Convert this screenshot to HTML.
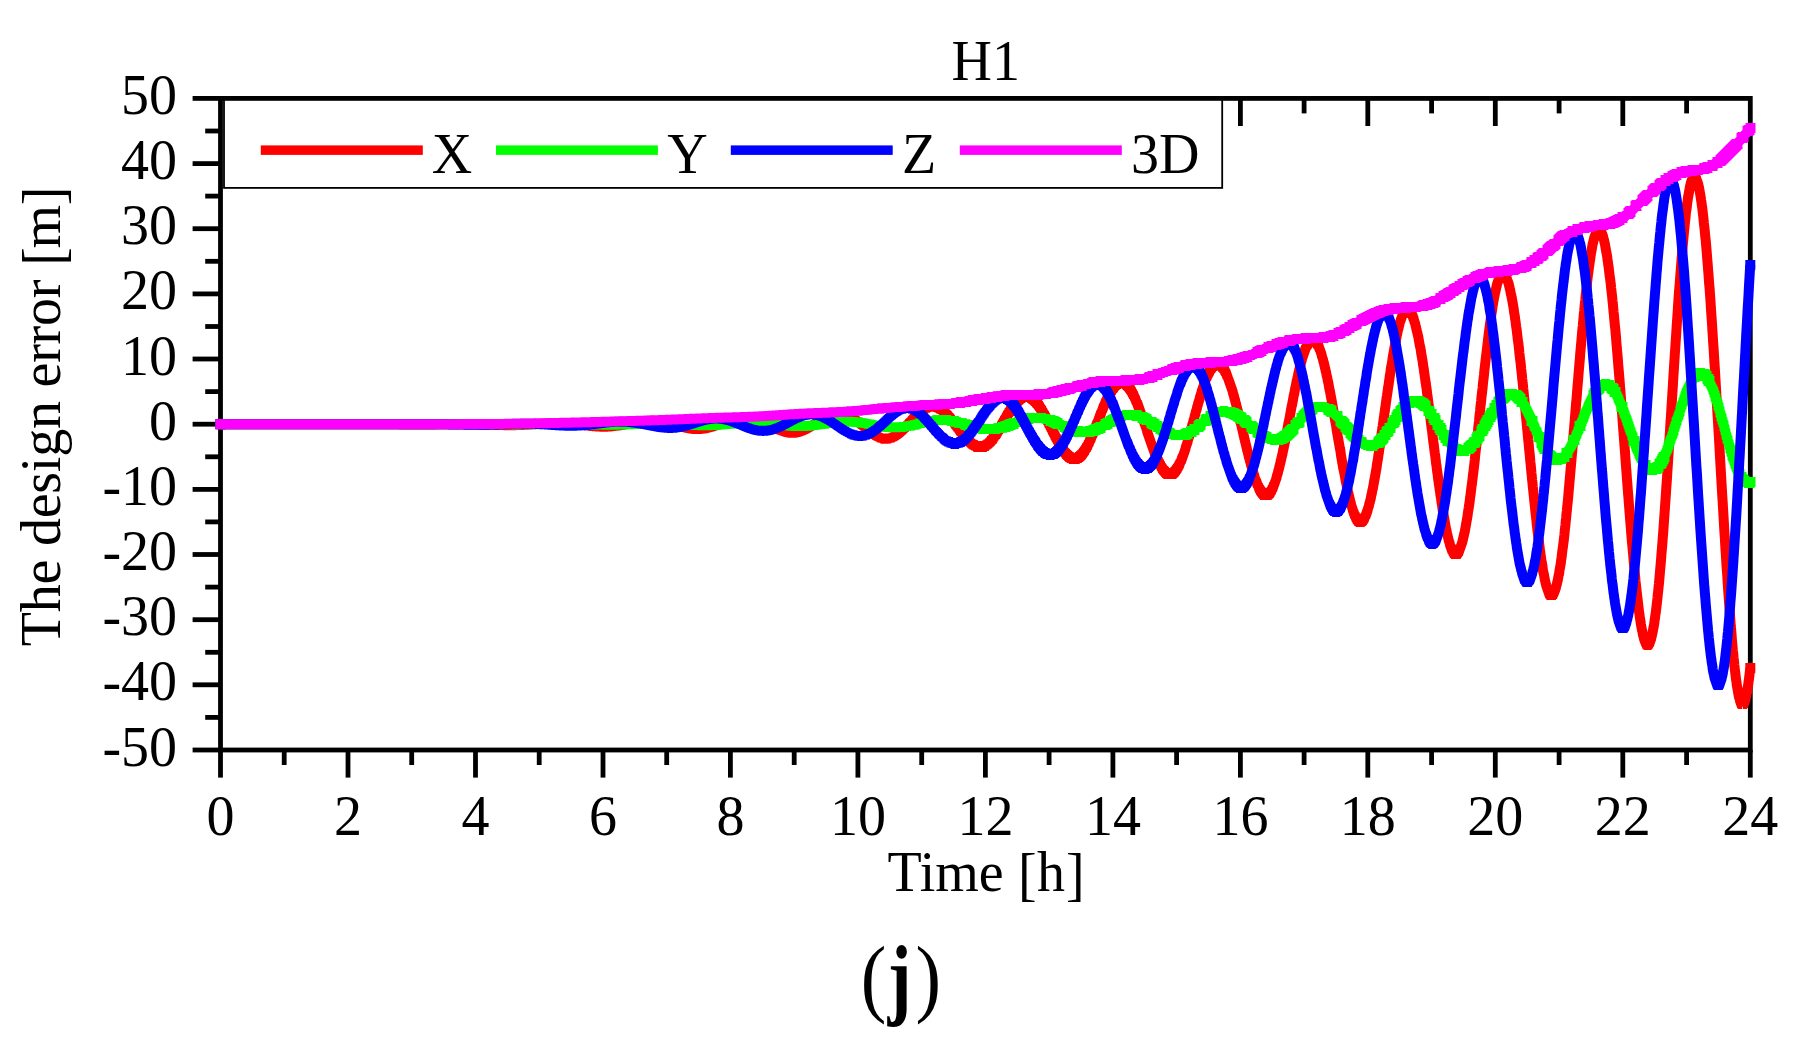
<!DOCTYPE html>
<html lang="en"><head><meta charset="utf-8"><title>H1 design error</title>
<style>html,body{margin:0;padding:0;background:#fff}body{width:1812px;height:1060px;overflow:hidden}svg{display:block}</style>
</head><body>
<svg width="1812" height="1060" viewBox="0 0 1812 1060">
<rect width="1812" height="1060" fill="#fff"/>
<g stroke="#000" stroke-width="4.8" fill="none">
<line x1="220.5" y1="750.0" x2="220.5" y2="777.6"/>
<line x1="284.2" y1="750.0" x2="284.2" y2="765.0"/>
<line x1="284.2" y1="98.4" x2="284.2" y2="113.4"/>
<line x1="348.0" y1="750.0" x2="348.0" y2="777.6"/>
<line x1="348.0" y1="98.4" x2="348.0" y2="126.0"/>
<line x1="411.7" y1="750.0" x2="411.7" y2="765.0"/>
<line x1="411.7" y1="98.4" x2="411.7" y2="113.4"/>
<line x1="475.5" y1="750.0" x2="475.5" y2="777.6"/>
<line x1="475.5" y1="98.4" x2="475.5" y2="126.0"/>
<line x1="539.2" y1="750.0" x2="539.2" y2="765.0"/>
<line x1="539.2" y1="98.4" x2="539.2" y2="113.4"/>
<line x1="603.0" y1="750.0" x2="603.0" y2="777.6"/>
<line x1="603.0" y1="98.4" x2="603.0" y2="126.0"/>
<line x1="666.7" y1="750.0" x2="666.7" y2="765.0"/>
<line x1="666.7" y1="98.4" x2="666.7" y2="113.4"/>
<line x1="730.4" y1="750.0" x2="730.4" y2="777.6"/>
<line x1="730.4" y1="98.4" x2="730.4" y2="126.0"/>
<line x1="794.2" y1="750.0" x2="794.2" y2="765.0"/>
<line x1="794.2" y1="98.4" x2="794.2" y2="113.4"/>
<line x1="857.9" y1="750.0" x2="857.9" y2="777.6"/>
<line x1="857.9" y1="98.4" x2="857.9" y2="126.0"/>
<line x1="921.7" y1="750.0" x2="921.7" y2="765.0"/>
<line x1="921.7" y1="98.4" x2="921.7" y2="113.4"/>
<line x1="985.4" y1="750.0" x2="985.4" y2="777.6"/>
<line x1="985.4" y1="98.4" x2="985.4" y2="126.0"/>
<line x1="1049.1" y1="750.0" x2="1049.1" y2="765.0"/>
<line x1="1049.1" y1="98.4" x2="1049.1" y2="113.4"/>
<line x1="1112.9" y1="750.0" x2="1112.9" y2="777.6"/>
<line x1="1112.9" y1="98.4" x2="1112.9" y2="126.0"/>
<line x1="1176.6" y1="750.0" x2="1176.6" y2="765.0"/>
<line x1="1176.6" y1="98.4" x2="1176.6" y2="113.4"/>
<line x1="1240.4" y1="750.0" x2="1240.4" y2="777.6"/>
<line x1="1240.4" y1="98.4" x2="1240.4" y2="126.0"/>
<line x1="1304.1" y1="750.0" x2="1304.1" y2="765.0"/>
<line x1="1304.1" y1="98.4" x2="1304.1" y2="113.4"/>
<line x1="1367.8" y1="750.0" x2="1367.8" y2="777.6"/>
<line x1="1367.8" y1="98.4" x2="1367.8" y2="126.0"/>
<line x1="1431.6" y1="750.0" x2="1431.6" y2="765.0"/>
<line x1="1431.6" y1="98.4" x2="1431.6" y2="113.4"/>
<line x1="1495.3" y1="750.0" x2="1495.3" y2="777.6"/>
<line x1="1495.3" y1="98.4" x2="1495.3" y2="126.0"/>
<line x1="1559.1" y1="750.0" x2="1559.1" y2="765.0"/>
<line x1="1559.1" y1="98.4" x2="1559.1" y2="113.4"/>
<line x1="1622.8" y1="750.0" x2="1622.8" y2="777.6"/>
<line x1="1622.8" y1="98.4" x2="1622.8" y2="126.0"/>
<line x1="1686.6" y1="750.0" x2="1686.6" y2="765.0"/>
<line x1="1686.6" y1="98.4" x2="1686.6" y2="113.4"/>
<line x1="1750.3" y1="750.0" x2="1750.3" y2="777.6"/>
<line x1="220.5" y1="750.0" x2="192.6" y2="750.0"/>
<line x1="220.5" y1="717.4" x2="205.2" y2="717.4"/>
<line x1="220.5" y1="684.8" x2="192.6" y2="684.8"/>
<line x1="220.5" y1="652.3" x2="205.2" y2="652.3"/>
<line x1="220.5" y1="619.7" x2="192.6" y2="619.7"/>
<line x1="220.5" y1="587.1" x2="205.2" y2="587.1"/>
<line x1="220.5" y1="554.5" x2="192.6" y2="554.5"/>
<line x1="220.5" y1="521.9" x2="205.2" y2="521.9"/>
<line x1="220.5" y1="489.4" x2="192.6" y2="489.4"/>
<line x1="220.5" y1="456.8" x2="205.2" y2="456.8"/>
<line x1="220.5" y1="424.2" x2="192.6" y2="424.2"/>
<line x1="220.5" y1="391.6" x2="205.2" y2="391.6"/>
<line x1="220.5" y1="359.0" x2="192.6" y2="359.0"/>
<line x1="220.5" y1="326.5" x2="205.2" y2="326.5"/>
<line x1="220.5" y1="293.9" x2="192.6" y2="293.9"/>
<line x1="220.5" y1="261.3" x2="205.2" y2="261.3"/>
<line x1="220.5" y1="228.7" x2="192.6" y2="228.7"/>
<line x1="220.5" y1="196.1" x2="205.2" y2="196.1"/>
<line x1="220.5" y1="163.6" x2="192.6" y2="163.6"/>
<line x1="220.5" y1="131.0" x2="205.2" y2="131.0"/>
<line x1="220.5" y1="98.4" x2="192.6" y2="98.4"/>
</g>
<rect x="224" y="98" width="998.2" height="89.9" fill="#fff" stroke="#000" stroke-width="1.8"/>
<rect x="220.5" y="98.4" width="1529.8" height="651.6" fill="none" stroke="#000" stroke-width="4.8"/>
<path d="M220.5 424.2l94.55 0 0.35 0.05 26.55 0 0.35 -0.05 35.1 0 0.35 0.05 8.85 0 0.35 0.05 6.35 0 0.35 0.05 5.7 0 0.35 0.05 6.7 0 0.35 0.05 23.75 0 0.35 -0.05 4.95 0 0.35 -0.05 4.25 0 0.35 -0.05 3.55 0 0.35 -0.05 3.9 0 0.35 -0.05 4.6 0 0.35 -0.05 14.2 0 0.35 0.05 3.55 0 0.35 0.05 2.1 0 0.35 0.05 2.15 0 0.35 0.05 1.4 0 0.35 0.05 1.4 0 0.4 0.05 1.4 0 0.35 0.05 1.4 0 0.35 0.05 1.1 0 0.35 0.05 1.05 0 0.35 0.05 1.05 0 0.35 0.05 1.1 0 0.35 0.05 1.4 0 0.35 0.05 1.05 0 0.35 0.05 1.1 0 0.35 0.05 1.4 0 0.35 0.05 1.05 0 0.4 0.05 1.75 0 0.35 0.05 1.4 0 0.35 0.05 2.15 0 0.35 0.05 3.9 0 0.35 0.05 3.9 0 0.35 -0.05 3.2 0 0.35 -0.05 1.75 0 0.35 -0.05 1.45 0 0.35 -0.05 1.05 0 0.35 -0.05 0.7 0 0.35 -0.05 0.7 0 0.4 -0.05 0.7 0 0.35 -0.05 0.7 0 0.35 -0.05 0.35 0 0.35 -0.05 0.7 0 0.35 -0.05 0.4 0 0.35 -0.05 0.7 0 0.35 -0.05 0.35 0 0.35 -0.05 0.35 0 0.35 -0.05 0.35 0 0.35 -0.05 0.35 0 0.4 -0.05 0.35 0 0.35 -0.05 0.35 0 0.35 -0.05 0.35 0 0.35 -0.05 0.35 0 0.35 -0.05 0.35 0 0.35 -0.05 0.35 0 0.4 -0.05 0.35 0 0.35 -0.05 0.35 0 0.35 -0.05 0.35 0 0.35 -0.05 0.35 0 0.35 -0.05 0.35 0 0.35 -0.05 0.35 0 0.35 -0.05 0.75 0 0.35 -0.05 0.35 0 0.35 -0.05 0.35 0 0.35 -0.05 0.35 0 0.35 -0.05 0.35 0 0.35 -0.05 0.75 0 0.35 -0.05 0.35 0 0.35 -0.05 0.7 0 0.35 -0.05 0.7 0 0.35 -0.05 0.7 0 0.4 -0.05 0.7 0 0.35 -0.05 1.05 0 0.35 -0.05 1.8 0 0.35 -0.05 6.35 0 0.35 0.05 1.45 0 0.35 0.05 1.05 0 0.35 0.05 0.7 0 0.35 0.05 0.7 0 0.35 0.05 0.4 0 0.35 0.05 0.35 0 0.35 0.05 0.35 0 0.35 0.05 0.35 0 0.35 0.05 0.35 0 0.35 0.05 0.35 0 0.35 0.05 0.4 0.05 0.35 0 0.35 0.05 0.35 0 0.7 0.1 0.35 0 1.05 0.15 0.35 0 0.7 0.1 0.4 0.05 0.35 0 1.05 0.15 0.35 0 1.75 0.25 0.35 0 0.4 0.05 1.75 0.25 0.35 0 1.75 0.25 0.4 0.05 0.35 0.05 0.35 0 2.1 0.3 0.35 0 0.7 0.1 0.4 0.05 0.35 0.05 0.35 0 1.4 0.2 0.35 0 1.05 0.15 0.35 0 0.4 0.05 0.35 0.05 0.35 0 0.7 0.1 0.35 0 0.35 0.05 0.35 0 0.35 0.05 0.35 0 0.35 0.05 0.35 0 0.4 0.05 0.35 0 0.35 0.05 0.35 0 0.35 0.05 0.7 0 0.35 0.05 0.7 0 0.35 0.05 1.45 0 0.35 0.05 3.55 0 0.35 -0.05 1.4 0 0.35 -0.05 0.7 0 0.35 -0.05 0.35 0 0.35 -0.05 0.4 0 0.35 -0.05 0.35 0 0.35 -0.05 0.35 0 0.35 -0.05 0.35 0 0.7 -0.1 0.35 0 0.7 -0.1 0.4 -0.05 0.35 0 3.5 -0.5 0.4 -0.05 2.1 -0.3 0.35 -0.1 1.05 -0.15 0.35 -0.1 0.4 -0.05 0.7 -0.1 0.35 -0.1 0.7 -0.1 0.35 -0.1 0.7 -0.1 0.35 -0.1 0.7 -0.1 0.4 -0.1 0.35 -0.05 0.35 -0.1 0.7 -0.1 0.35 -0.1 0.7 -0.1 0.35 -0.1 0.35 -0.05 0.35 -0.1 0.35 -0.05 0.4 -0.05 0.35 -0.1 0.35 -0.05 0.35 -0.1 0.7 -0.1 0.35 -0.1 0.7 -0.1 0.35 -0.1 0.7 -0.1 0.35 -0.1 0.4 -0.05 0.7 -0.1 0.35 -0.1 2.1 -0.3 0.35 -0.1 0.35 -0.05 0.4 -0.05 1.4 -0.2 0.35 0 1.75 -0.25 0.35 0 0.4 -0.05 0.35 -0.05 0.35 0 0.7 -0.1 0.35 0 0.35 -0.05 0.35 0 0.35 -0.05 0.7 0 0.35 -0.05 1.1 0 0.35 -0.05 2.8 0 0.4 0.05 1.05 0 0.35 0.05 0.35 0 0.35 0.05 0.7 0 0.7 0.1 0.35 0 0.4 0.05 0.35 0.05 0.35 0 3.15 0.45 0.4 0.05 1.05 0.15 0.35 0.1 0.7 0.1 0.35 0.1 0.7 0.1 0.35 0.1 0.35 0.05 0.4 0.1 0.35 0.05 0.35 0.1 0.35 0.05 0.7 0.2 0.35 0.05 1.05 0.3 0.35 0.05 0.7 0.2 0.4 0.1 0.35 0.1 0.35 0.05 3.15 0.9 0.4 0.1 3.5 1 0.35 0.05 0.4 0.1 3.15 0.9 0.35 0.05 0.35 0.1 0.4 0.1 0.7 0.2 0.35 0.05 0.7 0.2 0.35 0.05 0.35 0.1 0.35 0.05 0.35 0.1 0.35 0.05 0.35 0.1 0.4 0.05 0.35 0.1 0.7 0.1 0.35 0.1 1.05 0.15 0.35 0.1 1.05 0.15 0.4 0.05 0.35 0.05 0.35 0 1.05 0.15 0.35 0 0.7 0.1 0.7 0 0.35 0.05 0.4 0 0.35 0.05 3.15 0 0.35 -0.05 0.75 0 0.35 -0.05 0.35 0 0.35 -0.05 0.35 0 0.7 -0.1 0.35 0 1.4 -0.2 0.4 -0.05 0.7 -0.1 0.35 -0.1 1.05 -0.15 0.35 -0.1 0.35 -0.05 0.35 -0.1 0.35 -0.05 0.35 -0.1 0.4 -0.1 0.35 -0.05 3.5 -1 0.4 -0.1 0.35 -0.1 0.35 -0.15 0.7 -0.2 0.35 -0.15 0.7 -0.2 0.35 -0.15 0.35 -0.1 0.35 -0.15 0.35 -0.1 0.4 -0.15 0.35 -0.1 0.7 -0.3 0.35 -0.1 0.35 -0.15 0.35 -0.1 0.7 -0.3 0.35 -0.1 0.7 -0.3 0.4 -0.1 0.7 -0.3 0.35 -0.1 1.05 -0.45 0.35 -0.1 0.7 -0.3 0.35 -0.1 0.35 -0.15 0.4 -0.15 0.35 -0.1 0.35 -0.15 0.35 -0.1 0.35 -0.15 0.35 -0.1 0.35 -0.15 0.35 -0.1 0.35 -0.15 0.35 -0.1 0.35 -0.15 0.35 -0.1 0.4 -0.15 1.05 -0.3 0.35 -0.15 2.8 -0.8 0.4 -0.1 0.35 -0.1 0.35 -0.05 0.7 -0.2 0.35 -0.05 0.35 -0.1 0.35 -0.05 0.35 -0.1 1.05 -0.15 0.4 -0.1 1.75 -0.25 0.35 0 0.7 -0.1 0.35 0 0.35 -0.05 0.35 0 0.4 -0.05 3.5 0 0.35 0.05 0.4 0 0.35 0.05 0.35 0 3.15 0.45 0.4 0.05 0.35 0.1 0.35 0.05 0.7 0.2 0.35 0.05 0.7 0.2 0.35 0.05 1.05 0.3 0.4 0.1 0.35 0.15 0.7 0.2 0.35 0.15 0.7 0.2 0.35 0.15 0.35 0.1 1.05 0.45 0.4 0.1 1.05 0.45 0.35 0.1 0.35 0.2 1.75 0.75 0.35 0.2 0.35 0.15 0.4 0.15 0.7 0.3 0.35 0.2 0.35 0.15 0.35 0.2 0.7 0.3 0.35 0.2 0.35 0.15 0.35 0.2 0.35 0.15 0.4 0.2 0.35 0.15 0.35 0.2 0.35 0.15 0.7 0.4 0.7 0.3 0.7 0.4 0.35 0.15 0.35 0.2 0.4 0.15 0.7 0.3 0.35 0.25 1.4 0.6 0.7 0.4 0.7 0.3 0.4 0.15 0.7 0.3 0.35 0.2 0.35 0.1 1.05 0.45 0.35 0.1 0.35 0.15 0.35 0.1 0.35 0.2 0.4 0.1 0.35 0.15 1.75 0.5 0.35 0.2 0.7 0.2 0.35 0.05 0.35 0.1 0.4 0.1 0.7 0.1 0.35 0.1 1.05 0.15 0.35 0.15 1.05 0.15 0.35 0 0.4 0.05 0.35 0.05 0.7 0 0.35 0.05 1.75 0 0.35 -0.05 0.75 0 0.7 -0.1 0.35 0 1.05 -0.15 0.35 -0.15 0.35 -0.05 0.35 -0.1 0.7 -0.1 0.35 -0.1 0.4 -0.05 1.4 -0.4 0.35 -0.2 0.7 -0.2 0.35 -0.15 0.7 -0.2 0.35 -0.15 0.4 -0.1 0.35 -0.25 1.05 -0.45 0.35 -0.1 0.35 -0.15 0.35 -0.3 1.05 -0.45 0.35 -0.2 0.4 -0.3 0.7 -0.3 0.35 -0.2 0.35 -0.15 0.35 -0.35 0.35 -0.15 0.35 -0.2 0.35 -0.15 0.35 -0.2 0.35 -0.35 0.35 -0.15 0.4 -0.2 0.7 -0.4 0.35 -0.35 0.35 -0.15 0.7 -0.4 0.35 -0.35 1.05 -0.6 0.35 -0.35 0.4 -0.2 1.05 -0.6 0.35 -0.35 0.7 -0.4 0.35 -0.15 0.35 -0.4 0.35 -0.2 0.35 -0.15 0.35 -0.2 0.4 -0.4 0.35 -0.15 0.35 -0.2 0.35 -0.15 0.35 -0.2 0.35 -0.35 0.35 -0.2 0.35 -0.15 0.35 -0.2 0.35 -0.35 0.35 -0.15 0.35 -0.2 0.4 -0.15 0.35 -0.15 0.35 -0.35 1.75 -0.75 0.35 -0.35 0.35 -0.15 0.35 -0.1 0.35 -0.15 0.35 -0.1 0.4 -0.15 0.35 -0.35 2.1 -0.6 0.35 -0.35 0.35 -0.05 0.35 -0.1 0.35 -0.05 0.4 -0.1 0.35 -0.05 0.35 -0.1 1.75 -0.25 0.35 0 0.35 -0.3 0.35 -0.05 0.35 0 0.4 -0.05 2.8 0 0.35 0.05 0.35 0 0.35 0.05 0.4 0.3 2.45 0.35 0.35 0.1 0.35 0.05 0.35 0.1 0.35 0.05 0.4 0.4 2.1 0.6 0.35 0.4 0.35 0.1 0.35 0.15 0.35 0.1 0.35 0.15 0.4 0.1 0.35 0.45 0.7 0.3 0.35 0.1 0.35 0.15 0.35 0.5 1.05 0.45 0.35 0.5 0.35 0.15 0.4 0.15 0.35 0.15 0.35 0.5 0.35 0.2 0.7 0.3 0.35 0.55 0.35 0.15 0.35 0.2 0.35 0.15 0.35 0.55 0.35 0.2 0.35 0.15 0.4 0.55 0.35 0.2 0.35 0.15 0.35 0.2 0.35 0.55 0.35 0.2 0.35 0.15 0.35 0.6 0.35 0.15 0.7 0.4 0.35 0.55 0.4 0.2 0.35 0.15 0.35 0.6 0.35 0.2 0.35 0.15 0.35 0.6 0.35 0.15 0.7 0.4 0.35 0.55 0.35 0.2 0.35 0.15 0.4 0.6 0.35 0.15 0.35 0.2 0.35 0.55 0.35 0.15 0.35 0.2 0.35 0.15 0.35 0.6 1.05 0.45 0.35 0.6 0.4 0.15 0.35 0.15 0.35 0.1 0.35 0.6 0.35 0.15 0.35 0.1 0.35 0.15 0.35 0.55 0.35 0.15 0.35 0.1 0.35 0.15 0.35 0.55 0.4 0.1 0.7 0.2 0.35 0.15 0.35 0.1 0.35 0.5 1.05 0.3 0.35 0.05 0.35 0.1 0.35 0.5 0.4 0.1 1.05 0.15 0.35 0.1 0.35 0.05 0.35 0 0.7 0.1 0.35 0.5 0.35 0 0.35 0.05 0.4 0 0.35 0.05 2.1 0 0.35 -0.05 0.35 0 0.35 -0.05 0.35 -0.5 0.4 -0.05 0.35 0 2.1 -0.3 0.35 -0.1 0.35 -0.05 0.35 -0.55 0.7 -0.2 0.4 -0.05 0.7 -0.2 0.35 -0.6 1.05 -0.3 0.35 -0.6 0.35 -0.15 1.05 -0.3 0.4 -0.65 0.35 -0.15 0.35 -0.1 0.35 -0.7 0.35 -0.1 0.35 -0.15 0.35 -0.1 0.35 -0.7 0.7 -0.3 0.35 -0.65 0.35 -0.15 0.4 -0.15 0.35 -0.7 0.7 -0.3 0.35 -0.7 0.35 -0.15 0.35 -0.2 0.35 -0.7 0.7 -0.3 0.35 -0.75 0.35 -0.15 0.4 -0.15 0.35 -0.75 0.35 -0.15 0.35 -0.75 0.7 -0.3 0.35 -0.75 0.35 -0.15 0.35 -0.75 0.7 -0.3 0.35 -0.75 0.4 -0.15 0.35 -0.2 0.35 -0.75 0.35 -0.15 0.35 -0.75 0.7 -0.3 0.35 -0.75 0.35 -0.15 0.35 -0.75 0.7 -0.3 0.4 -0.75 0.7 -0.3 0.35 -0.75 0.35 -0.15 0.35 -0.1 0.35 -0.75 0.7 -0.3 0.35 -0.75 0.35 -0.1 0.35 -0.15 0.4 -0.75 0.7 -0.2 0.35 -0.75 0.7 -0.2 0.35 -0.75 1.05 -0.3 0.35 -0.75 0.7 -0.2 0.4 -0.05 0.35 -0.75 0.35 -0.05 0.35 -0.1 0.35 -0.05 0.35 -0.75 0.7 -0.1 0.35 -0.1 0.7 -0.1 0.35 -0.7 0.4 -0.05 0.35 -0.05 0.35 0 0.7 -0.1 0.35 0 0.35 -0.05 0.35 0 0.35 -0.05 0.35 0 0.35 -0.7 2.5 0 0.35 0.7 0.35 0.05 0.7 0 0.35 0.05 0.35 0 0.4 0.05 0.35 0.05 0.35 0 0.7 0.1 0.35 0.75 1.4 0.2 0.35 0.8 0.35 0.05 0.4 0.05 0.7 0.1 0.35 0.8 0.35 0.1 0.7 0.1 0.35 0.85 0.35 0.05 0.35 0.1 0.35 0.8 0.35 0.1 0.4 0.05 0.35 0.85 0.35 0.1 0.35 0.05 0.35 0.85 0.7 0.2 0.35 0.85 0.35 0.05 0.35 0.1 0.35 0.85 0.35 0.1 0.4 0.85 0.7 0.2 0.35 0.85 0.35 0.1 0.35 0.9 0.35 0.1 0.35 0.85 0.7 0.2 0.35 0.9 0.35 0.1 0.4 0.85 0.35 0.1 0.35 0.9 0.35 0.1 0.35 0.85 0.35 0.1 0.35 0.9 0.7 0.2 0.35 0.9 0.35 0.1 0.35 0.9 0.35 0.05 0.4 0.9 0.35 0.1 0.35 0.9 0.35 0.1 0.35 0.9 0.35 0.1 0.35 0.9 0.35 0.05 0.35 0.9 0.7 0.2 0.35 0.9 0.4 0.05 0.35 0.9 0.35 0.1 0.35 0.9 0.35 0.1 0.35 0.9 0.35 0.05 0.35 0.1 0.35 0.9 0.35 0.05 0.35 0.9 0.35 0.05 0.4 0.1 0.35 0.9 0.35 0.05 0.35 0.9 0.7 0.1 0.35 0.9 0.7 0.1 0.35 0.9 0.7 0.1 0.4 0.9 0.7 0.1 0.35 0.9 0.35 0.05 0.35 0 0.35 0.05 0.35 0.9 0.35 0.05 0.35 0 0.35 0.05 0.35 0 0.4 0.9 0.35 0.05 0.7 0 0.35 0.05 0.35 0 0.35 0.9 0.7 0 0.35 0.05 4.25 0 0.35 -0.05 0.75 0 0.35 -0.9 0.35 0 0.35 -0.05 0.35 0 0.35 -0.05 0.35 0 0.35 -0.9 0.35 -0.05 0.35 0 0.35 -0.05 0.35 -0.9 0.35 -0.05 0.4 0 0.35 -0.05 0.35 -0.9 0.7 -0.1 0.35 -0.9 0.7 -0.1 0.35 -0.95 0.35 0 0.35 -0.95 0.35 -0.05 0.4 -0.05 0.35 -0.95 0.35 0 0.35 -1 0.35 0 0.35 -0.95 0.35 -0.05 0.35 -0.95 0.35 -0.05 0.35 -0.95 0.35 -0.05 0.35 -1 0.4 0 0.35 -1 0.35 0 0.35 -1 0.35 -0.05 0.7 -1.9 0.35 -0.05 0.35 -1 0.35 0 0.35 -1 0.35 -0.05 0.4 -0.95 0.35 -1 0.35 0 0.35 -1 0.35 -0.95 0.35 -0.05 0.35 -1 0.35 0 0.7 -2 0.35 0 0.35 -1 0.4 0 0.7 -2 0.35 0 0.7 -2 0.35 0 0.35 -1 0.35 0 0.7 -2 0.35 0 0.4 -1 0.35 0 0.35 -1 0.35 0 0.35 -1 0.35 0 0.7 -2 0.35 0 0.35 -1 0.35 0 0.35 -1 0.4 0 0.35 -1 0.7 0 0.35 -1 0.35 0 0.35 -1 0.35 0 0.35 -1 0.7 0 0.35 -1 0.75 0 0.35 -1 0.7 0 0.35 -1 0.7 0 0.35 -1 1.4 0 0.4 -1 2.8 0 0.35 -1 1.8 0 0.35 1 2.8 0 0.4 1 1.05 0 0.35 1 1.05 0 0.35 1 0.7 0 0.35 1 0.75 0 0.35 1 0.35 0 0.35 1 0.7 0 0.35 1 0.35 0 0.35 1 0.35 0 0.35 1 0.4 0 0.35 1 0.35 0 0.7 2 0.35 0 0.35 1 0.35 0 0.35 1 0.35 0 0.7 2 0.4 0 0.7 2 0.35 0 0.35 1 0.35 0 0.7 2 0.35 0 0.7 2 0.35 0 0.4 1 0.7 2 0.35 0 0.7 2 0.35 0 0.7 2 0.35 0 1.05 3 0.4 0 0.7 2 0.35 0 1.05 3 0.35 0 0.7 2 0.35 0 0.35 1 0.4 1 0.35 0 0.7 2 0.35 0 0.7 2 0.35 0 0.7 2 0.35 0 0.35 1 0.4 0 0.7 2 0.35 0 0.35 1 0.35 0 0.35 1 0.35 0 0.35 1 0.35 0 0.35 1 0.35 0 0.4 1 0.35 0 0.35 1 0.7 0 0.35 1 0.7 0 0.35 1 0.7 0 0.35 1 1.1 0 0.35 1 1.75 0 0.35 1 3.55 0 0.35 -1 1.8 0 0.35 -1 1.05 0 0.35 -1 0.7 0 0.35 -1 0.7 0 0.35 -1 0.4 0 0.35 -1 0.35 0 0.35 -1 0.35 0 0.35 -1 0.35 0 0.35 -1 0.35 0 0.7 -2 0.35 0 0.4 -1 0.35 0 0.7 -2 0.35 0 1.05 -3 0.35 0 1.05 -3 0.4 -1 0.35 0 1.75 -5 0.35 0 1.4 -4 0.4 -1 1.05 -3 0.35 0 2.45 -7 0.4 -1 0.7 -2 0.35 0 2.45 -7 0.35 0 0.4 -1 1.4 -4 0.35 0 1.4 -4 0.35 0 0.35 -1 0.4 -1 0.35 -1 0.35 0 0.7 -2 0.35 0 0.7 -2 0.35 0 0.35 -1 0.35 0 0.35 -1 0.4 0 0.7 -2 0.7 0 0.35 -1 0.35 0 0.35 -1 0.35 0 0.35 -1 0.7 0 0.35 -1 1.1 0 0.35 -1 1.75 0 0.35 -1 2.85 0 0.35 1 1.75 0 0.4 1 0.7 0 0.35 1 0.7 0 0.35 1 0.7 0 0.35 1 0.35 0 0.35 1 0.4 0 0.35 1 0.35 0 0.35 1 0.35 0 0.7 2 0.35 0 0.7 2 0.35 0 0.35 1 0.4 1 0.35 0 1.4 4 0.35 0 1.75 5 0.4 0 3.85 11 0.4 1 4.2 12 0.4 1 0.35 2 3.5 10 0.4 1 2.8 8 0.35 0 0.7 2 0.4 1 1.4 4 0.35 0 1.4 4 0.35 0 0.35 1 0.4 1 0.35 0 0.7 2 0.35 0 0.7 2 0.35 0 0.35 1 0.35 0 0.35 1 0.35 0 0.4 1 0.7 0 0.35 1 0.35 0 0.35 1 1.05 0 0.35 1 5.7 0 0.35 -1 0.7 0 0.35 -1 0.7 0 0.35 -1 0.35 0 0.35 -1 0.35 0 0.35 -1 0.4 0 0.35 -1 0.35 0 0.7 -2 0.35 0 0.7 -2 0.35 0 1.05 -3 0.4 -1 0.35 -1 0.35 0 3.15 -9 0.4 -1 0.35 -2 1.75 -5 0.35 -2 1.4 -4 0.4 -2 1.05 -3 0.35 -2 0.7 -2 0.35 -2 1.05 -3 0.35 -2 0.4 -1 0.35 -1 0.35 -2 0.7 -2 0.35 -2 1.05 -3 0.35 -2 0.7 -2 0.4 -2 1.4 -4 0.35 -2 1.4 -4 0.35 -2 0.35 -1 0.4 -1 3.85 -11 0.4 -1 0.35 -1 0.35 0 1.05 -3 0.35 0 0.7 -2 0.35 0 0.7 -2 0.35 0 0.4 -1 0.35 0 0.35 -1 0.35 0 0.35 -1 0.7 0 0.35 -1 1.05 0 0.35 -1 4.25 0 0.4 1 1.05 0 0.35 1 0.35 0 0.35 1 0.7 0 0.35 1 0.35 0 0.35 1 0.4 1 0.35 0 0.35 1 0.35 0 1.05 3 0.35 0 1.4 4 0.4 1 3.85 11 0.4 1 0.35 2 1.05 3 0.35 2 0.7 2 0.35 2 0.7 2 0.35 2 0.4 1 0.35 2 0.7 2 0.35 2 0.35 1 0.35 2 0.35 1 0.35 2 0.35 1 0.35 2 0.7 2 0.4 2 0.35 1 0.35 2 0.35 1 0.35 2 0.35 1 0.35 2 0.35 1 0.35 2 0.35 1 0.35 2 0.35 1 0.4 2 0.35 1 0.35 2 0.35 1 0.35 2 0.7 2 0.35 2 0.35 1 0.35 2 0.7 2 0.4 2 0.7 2 0.35 2 1.05 3 0.35 2 1.4 4 0.4 1 0.35 2 2.1 6 0.35 0 1.05 3 0.4 1 0.35 1 0.35 0 0.7 2 0.35 0 0.35 1 0.35 0 0.35 1 0.35 0 0.35 1 0.35 0 0.4 1 0.7 0 0.35 1 4.25 0 0.35 -1 0.7 0 0.35 -1 0.7 0 0.35 -1 0.35 0 0.4 -1 0.35 -1 0.35 0 1.05 -3 0.35 0 2.1 -6 0.4 -1 0.7 -2 0.35 -2 1.05 -3 0.35 -2 0.7 -2 0.35 -2 0.35 -1 0.4 -2 0.35 -1 0.35 -2 0.35 -1 0.35 -2 0.35 -1 0.35 -2 0.35 -1 0.7 -4 0.35 -1 0.35 -2 0.4 -2 0.35 -2 0.35 -1 1.4 -8 0.35 -1 1.4 -8 0.4 -2 0.35 -2 0.35 -1 2.45 -14 0.35 -1 0.35 -2 0.4 -2 1.05 -6 0.35 -1 1.05 -6 0.35 -1 1.05 -6 0.4 -1 0.35 -2 0.35 -1 0.7 -4 0.35 -1 0.35 -2 0.35 -1 0.35 -2 0.7 -2 0.35 -2 0.4 -1 0.35 -1 0.35 -2 1.75 -5 0.35 -2 0.7 -2 0.35 0 0.35 -1 0.4 -1 1.05 -3 0.35 0 0.35 -1 0.35 0 0.7 -2 0.7 0 0.35 -1 0.75 0 0.35 -1 3.55 0 0.35 1 0.7 0 0.35 1 0.35 0 0.35 1 0.35 0 0.35 1 0.35 0 0.7 2 0.4 1 0.35 0 2.45 7 0.35 2 0.7 2 0.4 1 0.35 2 0.7 2 0.35 2 0.35 1 0.35 2 0.35 1 0.35 2 0.35 1 0.7 4 0.4 1 0.7 4 0.35 1 1.4 8 0.35 1 1.05 6 0.4 2 3.85 22 0.4 2 0.7 4 0.35 3 3.15 18 0.4 2 0.35 2 0.35 3 2.45 14 0.35 1 0.35 2 0.4 2 1.4 8 0.35 1 0.7 4 0.35 1 0.7 4 0.35 1 0.4 2 0.35 1 0.35 2 0.35 1 0.35 2 0.7 2 0.35 2 1.4 4 0.4 2 1.05 3 0.35 0 1.05 3 0.35 0 0.7 2 0.35 0 0.4 1 0.35 0 0.35 1 1.05 0 0.35 1 1.75 0 0.4 -1 1.05 0 0.35 -1 0.35 0 0.35 -1 0.35 0 0.35 -1 0.35 0 0.7 -2 0.4 -1 0.35 -1 0.35 0 1.05 -3 0.35 -2 1.05 -3 0.35 -2 0.7 -2 0.4 -2 0.35 -1 0.7 -4 0.35 -1 0.7 -4 0.35 -1 1.4 -8 0.4 -2 2.1 -12 0.35 -3 1.05 -6 0.35 -3 0.4 -2 0.35 -3 0.7 -4 0.35 -3 0.35 -2 0.35 -3 0.35 -2 0.35 -3 0.35 -2 0.35 -3 0.35 -2 0.4 -3 0.35 -2 0.35 -3 0.35 -2 0.35 -3 0.35 -2 0.35 -3 0.35 -2 0.35 -3 0.35 -2 0.35 -3 0.35 -2 0.4 -3 0.35 -2 0.35 -3 0.7 -4 0.35 -3 0.35 -2 0.35 -3 0.7 -4 0.35 -3 0.35 -2 0.4 -2 0.7 -4 0.35 -3 2.8 -16 0.4 -1 1.05 -6 0.35 -1 0.7 -4 0.7 -2 0.35 -2 0.35 -1 0.35 -2 0.35 -1 0.4 -1 2.8 -8 0.35 0 0.7 -2 0.4 0 0.35 -1 1.05 0 0.35 -1 2.1 0 0.4 1 0.7 0 0.35 1 0.35 0 0.7 2 0.35 0 1.05 3 0.35 0 0.4 1 0.35 1 0.35 2 1.4 4 0.35 2 0.35 1 0.35 2 0.35 1 0.35 2 0.4 1 0.35 2 0.35 1 1.75 10 0.35 1 0.7 4 0.35 3 0.4 2 1.05 6 0.35 3 0.7 4 0.35 3 0.35 2 0.35 3 0.35 2 0.35 3 0.4 2 0.35 3 0.35 2 0.7 6 0.35 2 0.7 6 0.35 2 1.05 9 0.4 2 1.4 12 0.35 2 1.4 12 0.35 2 0.7 6 0.4 3 0.35 2 1.05 9 0.35 2 0.7 6 0.35 2 0.7 6 0.35 2 0.4 3 0.35 2 0.35 3 0.35 2 0.35 3 0.7 4 0.35 3 0.7 4 0.35 3 0.35 2 0.4 2 2.8 16 0.35 1 0.7 4 0.4 1 0.35 2 0.35 1 0.35 2 1.05 3 0.35 2 1.4 4 0.4 0 0.7 2 0.35 0 0.7 2 0.7 0 0.35 1 2.5 0 0.35 -1 0.35 0 0.35 -1 0.35 0 0.35 -1 0.35 0 0.7 -2 0.4 -1 2.1 -6 0.35 -2 0.35 -1 0.35 -2 0.35 -1 0.35 -2 0.35 -1 0.4 -2 2.8 -16 0.35 -3 0.7 -4 0.4 -3 0.35 -2 0.7 -6 0.35 -2 1.05 -9 0.35 -2 1.05 -9 0.4 -3 1.4 -12 0.35 -4 1.4 -12 0.35 -4 0.35 -3 0.4 -3 0.35 -3 0.35 -4 0.7 -6 0.35 -4 0.7 -6 0.35 -4 0.7 -6 0.35 -4 0.4 -3 0.7 -6 0.35 -4 1.05 -9 0.35 -4 1.4 -12 0.4 -3 2.8 -24 0.35 -2 0.7 -6 0.4 -2 0.35 -3 0.35 -2 0.35 -3 0.7 -4 0.35 -3 1.75 -10 0.4 -2 0.35 -2 0.35 -1 0.35 -2 0.35 -1 0.35 -2 0.35 -1 0.35 -2 1.75 -5 0.4 -1 0.7 -2 0.35 0 0.35 -1 0.35 0 0.35 -1 2.85 0 0.35 1 0.7 0 0.7 2 0.35 0 1.05 3 0.4 1 1.05 3 0.35 2 0.35 1 0.35 2 0.35 1 0.7 4 0.35 1 0.35 2 0.4 2 1.75 10 0.35 3 0.7 4 0.35 3 0.35 2 0.35 3 0.4 3 0.35 2 1.4 12 0.35 2 0.7 6 0.35 4 0.7 6 0.4 3 0.35 3 0.35 4 0.7 6 0.35 4 0.7 6 0.35 4 0.35 3 0.7 8 0.4 3 0.35 4 0.35 3 0.7 8 0.35 3 0.7 8 0.35 3 0.7 8 0.35 3 0.35 4 0.4 4 0.35 3 0.7 8 0.35 3 0.7 8 0.35 3 0.35 4 0.35 3 0.35 4 0.35 3 0.4 4 0.35 3 0.35 4 0.7 6 0.35 4 1.05 9 0.35 4 0.7 6 0.4 3 0.7 6 0.35 2 1.05 9 0.35 2 0.35 3 0.35 2 0.35 3 0.35 2 0.4 2 0.35 2 0.35 3 0.7 4 0.35 1 1.05 6 0.35 1 0.35 2 0.35 1 0.4 2 2.45 7 0.35 0 0.35 1 0.35 0 0.35 1 2.15 0 0.35 -1 0.7 0 0.7 -2 0.35 0 0.4 -1 1.05 -3 0.35 -2 0.7 -2 0.35 -2 0.35 -1 1.05 -6 0.4 -1 0.35 -3 1.4 -8 0.35 -3 0.35 -2 1.05 -9 0.35 -2 0.35 -3 0.4 -3 0.7 -6 0.35 -4 0.7 -6 0.35 -4 0.35 -3 0.35 -4 0.35 -3 0.35 -4 0.35 -3 0.4 -4 3.85 -44 0.4 -4 0.35 -5 1.05 -12 0.35 -5 0.7 -8 0.35 -5 0.7 -8 0.35 -5 0.4 -4 0.35 -4 0.35 -5 1.05 -12 0.35 -5 1.4 -16 0.35 -5 0.4 -4 1.75 -20 0.35 -3 1.05 -12 0.35 -3 0.35 -4 0.4 -4 0.35 -3 0.35 -4 1.05 -9 0.35 -4 1.05 -9 0.35 -2 0.35 -3 0.4 -3 0.35 -2 0.35 -3 0.35 -2 0.35 -3 2.1 -12 0.35 -1 0.35 -2 0.4 -1 0.35 -2 2.45 -7 0.35 0 0.35 -1 0.75 0 0.35 -1 0.7 0 0.35 1 0.7 0 0.35 1 0.35 0 0.35 1 0.35 0 0.35 1 0.4 1 0.7 2 0.35 2 0.7 2 0.35 2 0.35 1 1.4 8 0.4 2 0.7 4 0.35 3 0.35 2 0.35 3 0.35 2 1.05 9 0.35 2 0.35 3 0.4 3 0.35 4 1.05 9 0.35 4 0.35 3 0.7 8 0.35 3 0.7 8 0.4 4 0.35 3 0.7 8 0.35 5 1.4 16 0.35 5 0.7 8 0.4 5 0.35 4 0.35 5 0.35 4 0.7 10 0.35 4 0.35 5 0.35 4 1.05 15 0.35 4 0.4 5 0.7 10 0.35 4 1.05 15 0.35 4 0.7 10 0.35 4 0.35 5 0.4 5 0.35 4 0.35 5 0.35 4 0.35 5 0.35 4 0.35 5 0.7 8 0.35 5 0.7 8 0.4 4 2.1 24 0.35 3 0.7 8 0.7 6 0.4 4 2.45 21 0.35 2 0.35 3 0.7 4 0.4 3 1.05 6 0.35 1 0.7 4 0.7 2 0.35 2 0.7 2 0.4 1 0.35 0 0.7 2 0.7 0 0.35 1 0.7 0 0.35 -1 0.7 0 0.4 -1 0.35 -1 0.35 0 1.05 -3 0.35 -2 0.35 -1 0.35 -2 0.35 -1 0.7 -4 0.4 -2 0.7 -4 0.35 -3 0.35 -2 0.35 -3 0.35 -2 1.75 -15 0.35 -4 0.4 -3 0.35 -4 0.35 -3 2.1 -24 0.35 -5 0.7 -8 0.4 -5 0.35 -5 0.35 -4 2.8 -40 0.35 -6 0.4 -5 0.35 -5 0.35 -6 0.35 -5 0.35 -6 0.35 -5 0.35 -6 0.35 -5 0.35 -6 0.35 -5 0.7 -12 0.4 -5 0.7 -12 0.35 -5 0.35 -6 0.35 -5 0.7 -12 0.35 -5 0.35 -6 0.35 -5 0.35 -6 0.4 -5 0.35 -6 0.7 -10 0.35 -6 1.05 -15 0.35 -6 1.05 -15 0.4 -4 0.7 -10 0.35 -4 0.35 -5 0.35 -4 0.35 -5 1.75 -20 0.4 -4 0.35 -4 0.35 -3 0.35 -4 0.7 -6 0.35 -4 0.35 -3 0.35 -2 0.7 -6 0.35 -2 0.35 -3 0.4 -2 1.75 -10 0.35 -1 0.35 -2 1.4 -4 0.4 -1 0.35 0 0.35 -1 2.1 0 0.35 1 0.35 0 0.35 1 0.4 1 1.4 4 0.35 2 0.35 1 1.75 10 0.4 3 0.35 2 0.35 3 0.35 2 1.4 12 0.35 4 0.7 6 0.35 4 0.4 4 0.35 3 1.05 12 0.35 5 0.7 8 0.35 5 0.35 4 0.7 10 0.4 4 1.05 15 0.35 6 1.05 15 0.35 6 0.35 5 0.35 6 0.35 5 0.4 6 0.7 12 0.35 5 2.8 48 0.4 6 1.4 24 0.35 7 2.45 42 0.4 6 1.75 30 0.35 5 0.7 12 0.35 5 0.7 12 0.4 5 0.35 5 0.35 6 2.1 30 0.35 4 0.7 10 0.4 4 0.35 4 0.35 5 1.05 12 0.35 3 0.35 4 0.35 3 0.35 4 0.7 6 0.4 3 0.7 6 0.35 2 0.35 3 2.1 12 0.35 1 0.4 1 0.35 2 0.7 2 0.35 0 0.35 1 0.7 0 0.35 1 0.35 -1 0.7 0 0.4 -1 0.35 0 1.05 -3 0.35 -2 0.35 -1 0.7 -4 0.35 -1 0.35 -3 0.35 -2 0.4 -2 0.35 -3 0.35 -2 1.4 -12" fill="none" stroke="#ff0000" stroke-width="10" stroke-linejoin="miter" stroke-miterlimit="2.5"/>
<rect x="215.5" y="419.2" width="10" height="10" fill="#ff0000"/>
<rect x="1745.3" y="663.0" width="10" height="10" fill="#ff0000"/>
<path d="M220.5 424.2l185.9 0 0.35 0.05 29.05 0 0.35 -0.05 11.35 0 0.35 -0.05 10.25 0 0.35 -0.05 20.9 0 0.35 0.05 7.1 0 0.35 0.05 5.3 0 0.35 0.05 5 0 0.35 0.05 5.3 0 0.35 0.05 8.15 0 0.35 0.05 7.8 0 0.35 -0.05 7.05 0 0.4 -0.05 3.85 0 0.4 -0.05 3.15 0 0.35 -0.05 2.85 0 0.35 -0.05 2.85 0 0.35 -0.05 2.8 0 0.4 -0.05 2.45 0 0.35 -0.05 3.2 0 0.35 -0.05 4.25 0 0.35 -0.05 13.8 0 0.35 0.05 3.55 0 0.35 0.05 2.85 0 0.35 0.05 2.15 0 0.35 0.05 1.75 0 0.35 0.05 1.8 0 0.35 0.05 1.4 0 0.35 0.05 1.75 0 0.4 0.05 1.4 0 0.35 0.05 1.4 0 0.35 0.05 1.8 0 0.35 0.05 1.4 0 0.35 0.05 2.15 0 0.35 0.05 1.75 0 0.35 0.05 2.85 0 0.35 0.05 4.6 0 0.35 0.05 4.6 0 0.35 -0.05 4.25 0 0.35 -0.05 2.5 0 0.35 -0.05 1.4 0 0.4 -0.05 1.75 0 0.35 -0.05 1.05 0 0.35 -0.05 1.1 0 0.35 -0.05 1.05 0 0.35 -0.05 1.05 0 0.35 -0.05 1.1 0 0.35 -0.05 1.05 0 0.35 -0.05 0.7 0 0.35 -0.05 1.05 0 0.4 -0.05 0.7 0 0.35 -0.05 1.05 0 0.35 -0.05 0.7 0 0.35 -0.05 1.1 0 0.35 -0.05 1.05 0 0.35 -0.05 0.7 0 0.35 -0.05 1.1 0 0.35 -0.05 1.4 0 0.35 -0.05 1.05 0 0.35 -0.05 1.8 0 0.35 -0.05 2.1 0 0.35 -0.05 3.9 0 0.35 -0.05 2.85 0 0.35 0.05 3.55 0 0.35 0.05 2.15 0 0.35 0.05 1.4 0 0.35 0.05 1.05 0 0.35 0.05 1.1 0 0.35 0.05 0.7 0 0.35 0.05 0.7 0 0.35 0.05 0.7 0 0.35 0.05 0.75 0 0.35 0.05 0.7 0 0.35 0.05 0.35 0 0.35 0.05 0.7 0 0.35 0.05 0.75 0 0.35 0.05 0.35 0 0.35 0.05 0.7 0 0.35 0.05 0.35 0 0.35 0.05 0.35 0 0.35 0.05 0.75 0 0.35 0.05 0.35 0 0.35 0.05 0.7 0 0.35 0.05 0.35 0 0.35 0.05 0.35 0 0.35 0.05 0.75 0 0.35 0.05 0.35 0 0.35 0.05 0.7 0 0.35 0.05 0.7 0 0.35 0.05 0.35 0 0.35 0.05 0.75 0 0.35 0.05 0.7 0 0.35 0.05 0.7 0 0.35 0.05 1.05 0 0.4 0.05 1.05 0 0.35 0.05 1.05 0 0.35 0.05 1.4 0 0.4 0.05 2.8 0 0.35 0.05 3.55 0 0.35 -0.05 2.85 0 0.35 -0.05 1.4 0 0.35 -0.05 1.1 0 0.35 -0.05 0.7 0 0.35 -0.05 0.7 0 0.35 -0.05 0.7 0 0.35 -0.05 0.75 0 0.35 -0.05 0.35 0 0.35 -0.05 0.7 0 0.35 -0.05 0.35 0 0.35 -0.05 0.35 0 0.35 -0.05 0.4 0 0.35 -0.05 0.35 0 0.35 -0.05 0.35 0 0.35 -0.05 0.35 0 0.35 -0.05 0.35 0 0.35 -0.05 0.35 0 0.35 -0.05 0.4 -0.05 0.35 0 0.35 -0.05 0.35 0 0.35 -0.05 0.35 0 0.7 -0.1 0.35 0 0.35 -0.05 0.35 0 0.35 -0.05 0.4 0 0.7 -0.1 0.35 0 0.35 -0.05 0.35 0 0.7 -0.1 0.35 0 0.35 -0.05 0.35 0 0.35 -0.05 0.35 0 0.4 -0.05 0.35 -0.05 0.35 0 0.35 -0.05 0.35 0 0.35 -0.05 0.35 0 0.35 -0.05 0.35 0 0.35 -0.05 0.35 0 0.35 -0.05 0.4 0 0.35 -0.05 0.35 0 0.35 -0.05 0.35 0 0.35 -0.05 0.35 0 0.35 -0.05 0.7 0 0.35 -0.05 0.35 0 0.4 -0.05 0.7 0 0.35 -0.05 0.7 0 0.35 -0.05 0.7 0 0.35 -0.05 1.45 0 0.35 -0.05 1.75 0 0.35 -0.05 4.95 0 0.4 0.05 1.75 0 0.35 0.05 1.05 0 0.35 0.05 0.7 0 0.35 0.05 0.75 0 0.35 0.05 0.35 0 0.35 0.05 0.7 0 0.35 0.05 0.4 0 0.3 0.05 0.35 0 0.4 0.05 0.35 0 0.3 0.05 0.4 0 0.35 0.05 0.35 0 0.7 0.1 0.35 0 0.35 0.05 0.35 0 0.35 0.1 0.4 0 0.3 0.05 0.4 0.05 0.35 0 0.7 0.1 0.35 0 0.7 0.1 0.35 0 0.35 0.05 0.4 0.05 0.3 0.05 0.35 0 0.4 0.05 0.35 0.05 0.3 0 0.4 0.05 0.35 0.05 0.4 0.05 0.3 0 0.35 0.05 0.4 0.05 0.3 0.05 0.35 0 0.4 0.05 0.35 0.1 0.3 0.05 0.4 0.05 0.35 0 0.3 0.05 0.4 0.05 0.35 0.05 0.4 0 0.3 0.05 0.35 0.05 0.4 0.05 0.35 0 0.3 0.05 0.4 0.05 0.35 0 0.3 0.05 0.4 0.05 0.35 0 0.35 0.05 0.4 0.05 0.3 0 0.35 0.05 0.4 0.05 0.3 0 0.4 0.05 0.35 0 0.3 0.05 0.45 0.1 0.3 0.05 0.35 0 0.4 0.05 0.3 0.05 0.35 0 0.4 0.05 0.3 0 0.35 0.05 0.7 0 0.35 0.05 0.4 0 0.35 0.05 0.4 0 0.3 0.05 0.75 0 0.3 0.05 1.1 0 0.3 0.05 1.05 0 0.4 0.05 6.35 0 0.45 -0.05 1.35 0 0.3 -0.05 0.75 0 0.3 -0.05 0.75 0 0.3 -0.05 0.75 0 0.3 -0.05 0.45 0 0.3 -0.05 0.45 0 0.3 -0.05 0.3 0 0.45 -0.05 0.3 0 0.3 -0.05 0.5 0 0.25 -0.05 0.3 -0.2 0.5 0 0.25 -0.05 0.3 -0.05 0.5 0 0.3 -0.05 0.45 -0.05 0.3 0 0.3 -0.05 0.45 -0.05 0.3 -0.05 0.3 0 0.45 -0.05 0.3 -0.05 0.3 0 0.45 -0.05 0.6 -0.1 0.45 -0.05 0.3 0 0.3 -0.05 0.45 -0.05 0.3 -0.05 0.45 -0.2 0.6 -0.1 0.45 -0.05 0.6 -0.1 0.45 0 0.6 -0.1 0.45 -0.05 0.6 -0.1 0.45 0 0.6 -0.1 0.45 -0.05 0.3 -0.05 0.5 -0.05 0.25 0 0.3 -0.3 0.5 0 0.25 -0.05 0.3 -0.05 0.5 -0.05 0.25 -0.05 0.3 0 0.5 -0.05 0.25 -0.05 0.3 -0.05 0.5 -0.05 0.25 0 0.5 -0.05 0.3 -0.05 0.25 -0.05 0.5 0 0.3 -0.05 0.25 -0.05 0.5 0 0.3 -0.05 0.25 -0.25 0.5 -0.05 0.3 -0.05 0.25 0 0.5 -0.05 0.3 -0.05 0.25 0 0.5 -0.05 0.3 0 0.5 -0.05 0.25 0 0.25 -0.05 0.55 0 0.25 -0.05 0.25 0 0.55 -0.05 0.5 0 0.55 -0.05 0.25 0 0.25 -0.05 1.05 0 0.55 -0.05 1.05 0 0.25 -0.05 6 0 0.55 0.05 1.05 0 0.25 0.05 1 0 0.25 0.05 0.8 0 0.6 0.05 0.2 0 0.25 0.05 0.8 0 0.25 0.05 0.55 0 0.25 0.05 0.25 0 0.55 0.05 0.25 0 0.2 0.05 0.6 0 0.25 0.05 0.2 0.05 0.6 0 0.2 0.4 0.6 0.05 0.25 0 0.2 0.05 0.6 0.05 0.2 0 0.25 0.05 0.6 0.05 0.2 0 0.25 0.05 0.6 0.05 0.2 0 0.2 0.05 0.6 0.05 0.25 0.05 0.2 0 0.6 0.05 0.25 0.05 0.6 0.45 0.2 0 0.2 0.05 0.6 0.05 0.25 0.05 0.2 0.05 0.6 0 0.2 0.05 0.25 0.05 0.6 0.05 0.2 0.05 0.2 0 0.65 0.05 0.2 0.05 0.6 0.05 0.25 0.45 0.2 0.05 0.6 0 0.4 0.1 0.65 0.05 0.2 0.05 0.2 0 0.65 0.05 0.4 0.1 0.6 0.05 0.2 0 0.2 0.05 0.65 0.5 0.2 0 0.65 0.05 0.2 0.05 0.2 0 0.65 0.05 0.2 0.05 0.15 0.05 0.65 0 0.4 0.1 0.65 0 0.2 0.05 0.2 0 0.65 0.05 0.2 0.05 0.15 0 0.65 0.5 0.2 0.05 0.65 0 0.2 0.05 0.2 0 0.65 0.05 0.2 0 0.15 0.05 0.7 0 0.15 0.05 0.85 0 0.2 0.05 0.85 0 0.2 0.05 0.85 0 0.15 0.05 1.05 0 0.65 0.05 2.1 0 0.15 0.05 2.95 0 0.15 -0.05 2.05 0 0.7 -0.05 1.05 0 0.15 -0.05 1 0 0.75 -0.05 0.3 0 0.7 -0.05 0.3 0 0.75 -0.05 0.15 0 0.15 -0.05 0.7 0 0.15 -0.05 0.9 0 0.15 -0.05 0.7 -0.6 0.15 0 0.15 -0.05 0.75 0 0.3 -0.1 0.75 0 0.1 -0.05 0.15 0 0.75 -0.05 0.15 0 0.15 -0.05 0.75 -0.05 0.1 0 0.75 -0.05 0.15 -0.6 0.15 -0.05 0.75 -0.05 0.15 0 0.1 -0.05 0.75 0 0.3 -0.1 0.75 0 0.15 -0.05 0.1 -0.05 0.75 0 0.15 -0.65 0.15 -0.05 0.75 -0.05 0.15 0 0.75 -0.05 0.1 -0.05 0.15 0 0.75 -0.05 0.15 -0.05 0.1 0 0.8 -0.05 0.1 -0.05 0.15 -0.65 0.75 -0.05 0.15 0 0.1 -0.05 0.8 0 0.1 -0.05 0.8 -0.05 0.1 0 0.15 -0.05 0.75 0 0.15 -0.05 0.1 -0.7 0.8 0 0.1 -0.05 0.1 0 0.8 -0.05 0.1 -0.05 0.15 0 0.75 -0.05 0.15 0 0.1 -0.05 0.8 0 0.1 -0.05 0.8 0 0.1 -0.7 0.15 -0.05 0.9 0 0.1 -0.05 0.8 0 0.1 -0.05 0.9 0 0.1 -0.05 0.15 0 0.8 -0.05 1 0 0.1 -0.05 0.8 -0.7 0.1 0 0.15 -0.05 1 0 0.8 -0.05 1.25 0 0.8 -0.05 6.95 0 0.05 0.05 2.05 0 0.1 0.05 1 0 0.85 0.8 1 0 0.1 0.05 0.95 0 0.05 0.05 1 0 0.9 0.05 0.15 0 0.85 0.05 0.05 0 0.1 0.8 0.85 0.05 0.95 0 0.05 0.05 0.95 0 0.1 0.05 0.95 0 0.05 0.05 0.05 0.8 0.9 0.05 0.15 0 0.85 0.05 0.05 0 0.1 0.05 0.95 0 0.85 0.05 0.1 0.8 0.05 0.05 0.9 0 0.05 0.05 0.95 0 0.05 0.05 0.05 0 0.9 0.05 0.05 0.85 0.95 0 0.05 0.05 0.95 0 0.1 0.05 0.95 0 0.05 0.9 0.95 0 0.05 0.05 0.95 0 0.05 0.05 0.95 0 0.05 0.9 0.95 0 0.95 0.05 1 0 0.05 0.05 1 0 0.05 0.9 0.95 0 0.05 0.05 1.95 0 0 0.05 1.05 0 0.9 0.9 1.05 0 0.05 0.05 3.9 0 0.05 0.05 6.95 0 0.05 -0.05 4.95 0 0.05 -0.05 1 -0.9 0 -0.05 3 0 0.95 -0.05 0.05 -0.95 3 0 0 -1 3 0 0 -1 2 0 0 -1 3 0 0 -1 2 0 1 -1 2 0 1 -1 2 0 0 -1 3 0 1 -1 3 0 0 -1 15 0 1 1 3 0 1 1 2 0 0 1 3 0 0 1 2 0 0 1 2 0 0 1 2 0 1 1 1 0 1 1 2 0 0 1 2 0 0 1 2 0 0 1 3 0 0 1 2 0 1 1 4 0 0 1 11 0 0 -1 4 0 0 -1 2 0 0 -1 3 0 0 -1 2 0 0 -1 1 0 1 -1 1 0 1 -1 1 0 0 -1 2 0 0 -1 1 0 1 -1 1 0 0 -1 2 0 0 -1 2 0 0 -1 2 0 0 -1 2 0 0 -1 2 0 1 -1 2 0 1 -1 12 0 0 1 3 0 1 1 2 0 0 1 2 0 0 1 2 0 0 1 1 0 1 1 1 0 1 1 1 0 0 1 1 0 0 1 2 0 0 1 1 0 1 1 1 0 0 1 1 0 1 1 1 0 0 1 2 0 0 1 1 0 0 1 2 0 0 1 2 0 0 1 2 0 0 1 3 0 1 1 12 0 0 -1 2 0 0 -1 2 0 1 -1 1 0 0 -1 1 0 1 -1 1 0 0 -1 1 0 2 -2 1 0 0 -1 1 0 0 -1 1 0 0 -1 1 0 3 -3 1 0 0 -1 1 0 0 -1 1 0 2 -2 1 0 0 -1 2 0 0 -1 1 0 0 -1 2 0 0 -1 2 0 1 -1 3 0 1 -1 3 0 1 1 4 0 0 1 3 0 0 1 2 0 0 1 2 0 0 1 1 0 0 1 2 0 0 1 1 0 0 1 1 0 1 1 1 0 0 1 1 0 0 1 1 0 0 1 1 0 3 3 1 0 0 1 1 0 0 1 1 0 0 1 1 0 2 2 1 0 0 1 1 0 0 1 1 0 1 1 1 0 0 1 1 0 1 1 1 0 0 1 2 0 0 1 2 0 1 1 2 0 1 1 6 0 0 -1 3 0 0 -1 2 0 0 -1 1 0 0 -1 2 0 0 -1 1 0 0 -1 1 0 0 -1 1 0 0 -1 1 0 0 -1 1 0 0 -1 1 0 0 -1 1 0 0 -1 2 -2 0 -1 1 0 1 -1 0 -1 1 0 0 -1 1 0 0 -1 2 -2 0 -1 1 0 1 -1 0 -1 1 0 0 -1 1 0 0 -1 1 0 0 -1 1 0 0 -1 1 0 0 -1 1 0 1 -1 1 0 0 -1 1 0 0 -1 2 0 1 -1 9 0 1 1 1 0 1 1 1 0 0 1 2 0 0 1 1 0 0 1 1 0 4 4 1 0 0 1 3 3 0 1 1 0 0 1 1 0 0 1 1 0 0 1 1 0 0 1 1 1 0 1 1 0 0 1 1 0 0 1 1 0 0 1 1 0 0 1 1 1 0 1 1 0 0 1 1 0 0 1 1 0 0 1 1 0 0 1 1 0 0 1 1 0 0 1 1 0 0 1 1 0 0 1 1 0 1 1 1 0 0 1 1 0 1 1 1 0 1 1 2 0 1 1 4 0 0 -1 2 0 1 -1 1 0 1 -1 1 0 0 -1 1 0 0 -1 1 0 0 -1 1 0 0 -1 1 0 0 -1 1 0 0 -1 1 -1 0 -1 1 0 0 -1 1 -1 0 -1 1 0 0 -1 1 0 0 -1 1 -1 0 -1 1 0 0 -1 1 -1 0 -1 1 -1 0 -1 1 0 0 -1 1 0 0 -2 1 0 0 -1 1 -1 0 -1 1 0 0 -2 1 0 0 -1 1 0 0 -1 1 -1 0 -1 1 0 0 -1 1 0 0 -1 1 -1 0 -1 1 0 4 -4 1 0 0 -1 2 0 0 -1 7 0 0 1 2 0 0 1 2 0 0 1 1 0 0 1 1 0 0 1 1 0 0 1 3 3 0 1 1 0 0 1 1 1 0 1 1 0 0 1 2 2 0 1 1 0 0 2 1 0 0 1 1 1 0 1 1 1 0 1 1 0 0 1 1 1 0 1 1 0 0 2 1 0 0 1 1 1 0 1 1 1 0 1 1 0 0 1 1 1 0 1 1 0 0 1 1 1 0 1 1 0 0 1 1 1 1 0 0 1 2 2 0 1 1 0 0 1 1 0 1 1 1 0 0 1 2 0 0 1 6 0 0 -1 2 0 1 -1 1 0 0 -1 1 0 0 -1 1 0 0 -1 1 0 0 -1 1 0 1 -1 0 -1 1 0 0 -1 1 0 0 -1 1 -1 0 -1 1 0 0 -2 1 0 0 -1 1 0 0 -1 1 -1 0 -1 1 -1 0 -1 1 0 0 -2 1 0 0 -1 1 -1 0 -1 1 0 0 -2 1 0 0 -2 1 0 0 -2 1 0 0 -1 1 -1 0 -1 1 0 0 -2 1 0 0 -2 1 0 0 -1 1 -1 0 -1 1 -1 0 -1 1 0 0 -1 1 -1 0 -1 1 0 0 -1 1 -1 0 -1 1 0 0 -1 1 0 0 -1 1 -1 1 0 0 -1 1 0 0 -1 1 0 0 -1 1 0 0 -1 2 0 0 -1 7 0 1 1 1 0 0 1 1 0 0 1 1 0 0 1 1 0 0 1 1 0 0 1 1 1 0 1 1 0 0 1 2 2 0 1 1 1 0 1 1 1 0 1 1 1 0 1 1 1 0 1 1 1 0 1 1 1 0 1 1 1 0 2 1 0 0 2 1 1 0 1 1 1 0 2 2 2 0 2 1 1 0 1 1 1 0 2 1 0 0 2 2 2 0 2 1 0 0 2 1 0 0 2 1 0 0 2 1 0 0 1 2 2 0 1 1 1 0 1 1 0 0 1 1 0 0 1 1 0 0 1 1 0 1 1 1 0 0 1 5 0 1 -1 1 0 0 -1 1 0 1 -1 1 0 0 -1 2 -2 0 -1 1 0 0 -1 1 -1 0 -1 2 -2 0 -1 1 -1 0 -1 1 -1 0 -1 1 -1 0 -2 1 0 0 -1 1 -1 0 -1 1 -1 0 -2 1 -1 0 -1 1 -1 0 -2 1 -1 0 -2 1 0 0 -1 1 -1 0 -2 1 -1 0 -1 1 -1 0 -2 1 -1 0 -2 1 -1 0 -1 1 -1 0 -1 1 -1 0 -1 1 -1 0 -2 1 -1 0 -1 1 -1 0 -1 1 -1 0 -1 1 -1 0 -1 1 -1 0 -1 1 0 0 -2 1 0 0 -1 1 -1 0 -1 1 0 0 -1 1 0 0 -1 1 0 0 -1 1 -1 1 0 0 -1 1 0 1 -1 4 0 1 1 1 0 0 1 1 0 1 1 0 1 1 0 0 1 1 0 0 1 1 1 0 1 1 0 0 1 1 1 0 1 1 1 0 1 1 1 0 2 1 1 0 1 1 1 0 1 1 1 0 2 1 0 0 2 1 1 0 2 1 1 0 2 1 1 0 1 1 1 0 2 1 1 0 2 1 1 0 2 1 1 0 2 1 1 0 2 1 1 0 1 1 1 0 3 1 1 0 2 1 0 0 2 1 1 0 2 1 1 0 2 1 1 0 1 1 1 0 1 1 1 0 2 1 1 0 1 1 1 0 1 2 2 0 1 1 1 0 1 1 0 0 1 1 1 0 1 1 0 0 1 2 0 0 1 5 0 1 -1 1 0 0 -1 1 0 0 -1 1 0 0 -1 1 -1 0 -1 1 0 0 -1 1 0 0 -2 1 0 0 -2 1 0 0 -2 1 0 0 -2 1 -1 0 -1 1 -1 0 -1 1 -1 0 -2 1 -1 0 -2 1 -1 0 -2 1 -1 0 -2 1 -1 0 -1 1 -1 0 -2 1 -1 0 -3 1 -1 0 -2 1 -1 0 -2 1 -1 0 -3 1 -1 0 -1 1 -1 0 -2 1 -1 0 -2 1 -2 0 -2 1 -1 0 -2 1 -1 0 -1 1 -1 0 -2 1 -1 0 -2 1 -1 0 -2 1 -1 0 -2 1 -1 0 -1 1 -1 0 -1 1 -1 0 -1 1 -1 0 -1 1 -1 0 -1 1 -1 0 -1 1 -1 0 -1 1 0 0 -1 1 0 0 -1 1 0 0 -1 1 0 0 -1 5 0 1 1 1 0 0 1 1 0 0 1 1 0 0 1 1 1 0 1 1 0 0 2 1 0 0 2 1 1 0 1 1 1 0 1 1 1 0 1 1 1 0 2 1 1 0 2 1 1 0 3 1 1 0 1 1 1 0 2 1 1 0 3 1 1 0 2 1 2 0 2 1 1 0 3 1 1 0 2 1 1 0 2 1 2 0 2 1 2 0 2 1 2 0 2 1 1 0 3 1 1 0 1 1 2 0 2 1 1 0 3 1 1 0 2 1 1 0 3 1 1 0 1 1 1 0 2 1 1 0 2 1 1 0 2 1 1 0 1 1 1 0 2 1 0 0 1 1 1 0 1 1 0 0 2 1 0 0 1 1 0 0 1 1 0 0 1 1 0 1 1 3 0 0 -1 1 0" fill="none" stroke="#00ff00" stroke-width="10" stroke-linejoin="miter" stroke-miterlimit="2.5"/>
<rect x="215.5" y="419.2" width="10" height="10" fill="#00ff00"/>
<rect x="1745.5" y="477.0" width="10" height="10" fill="#00ff00"/>
<path d="M220.5 424.2l129.95 0 0.35 0.05 15.25 0 0.35 0.05 36.45 0 0.4 -0.05 10.6 0 0.35 -0.05 19.85 0 0.35 0.05 6 0 0.35 0.05 3.9 0 0.35 0.05 3.2 0 0.35 0.05 3.2 0 0.35 0.05 2.45 0 0.4 0.05 2.8 0 0.35 0.05 2.5 0 0.35 0.05 2.85 0 0.35 0.05 3.55 0 0.35 0.05 5.3 0 0.35 0.05 6.7 0 0.4 -0.05 4.6 0 0.35 -0.05 2.8 0 0.35 -0.05 2.15 0 0.35 -0.05 1.75 0 0.4 -0.05 1.4 0 0.35 -0.05 1.4 0 0.35 -0.05 1.1 0 0.35 -0.05 1.05 0 0.35 -0.05 1.4 0 0.35 -0.05 1.1 0 0.35 -0.05 0.7 0 0.35 -0.05 1.05 0 0.35 -0.05 1.1 0 0.35 -0.05 1.05 0 0.35 -0.05 1.05 0 0.35 -0.05 1.1 0 0.35 -0.05 1.05 0 0.35 -0.05 1.4 0 0.35 -0.05 1.45 0 0.35 -0.05 1.75 0 0.35 -0.05 2.5 0 0.35 -0.05 7.1 0 0.35 0.05 2.1 0 0.35 0.05 1.45 0 0.35 0.05 1.4 0 0.35 0.05 0.7 0 0.35 0.05 0.75 0 0.35 0.05 0.7 0 0.35 0.05 0.7 0 0.35 0.05 0.7 0 0.35 0.05 0.35 0 0.35 0.05 0.75 0 0.35 0.05 0.35 0 0.35 0.05 0.35 0 0.35 0.05 0.35 0 0.35 0.05 0.35 0 0.35 0.05 0.35 0 0.4 0.05 0.7 0 0.35 0.05 0.35 0 0.35 0.05 0.35 0 0.35 0.05 0.35 0 0.35 0.05 0.35 0 0.35 0.05 0.4 0 0.7 0.1 0.35 0 0.35 0.05 0.35 0 0.35 0.05 0.35 0 0.35 0.05 0.35 0 0.35 0.05 0.35 0 0.4 0.05 0.35 0 0.35 0.05 0.7 0 0.35 0.05 0.35 0 0.35 0.05 0.35 0 0.35 0.05 0.35 0 0.35 0.05 0.4 0 0.35 0.05 0.7 0 0.35 0.05 0.7 0 0.35 0.05 0.35 0 0.35 0.05 0.7 0 0.4 0.05 1.05 0 0.35 0.05 1.05 0 0.35 0.05 1.45 0 0.35 0.05 7.75 0 0.35 -0.05 1.45 0 0.35 -0.05 0.7 0 0.35 -0.05 0.7 0 0.35 -0.05 0.75 0 0.35 -0.05 0.35 0 0.35 -0.05 0.35 0 0.35 -0.05 0.35 0 0.35 -0.05 0.35 0 0.35 -0.05 0.35 0 0.35 -0.05 0.4 0 0.35 -0.05 0.35 0 0.7 -0.1 0.35 0 0.7 -0.1 0.35 0 0.7 -0.1 0.35 0 0.4 -0.05 0.7 -0.1 0.35 0 1.4 -0.2 0.35 0 1.05 -0.15 0.4 -0.05 0.7 -0.1 0.35 0 2.8 -0.4 0.4 0 3.85 -0.55 0.4 0 2.45 -0.35 0.35 0 1.4 -0.2 0.4 -0.05 0.35 -0.05 0.35 0 1.05 -0.15 0.35 0 1.05 -0.15 0.35 0 0.35 -0.05 0.4 -0.05 0.35 0 0.7 -0.1 0.35 0 0.35 -0.05 0.35 0 0.7 -0.1 0.35 0 0.35 -0.05 0.75 0 0.35 -0.05 0.35 0 0.35 -0.05 0.7 0 0.35 -0.05 0.7 0 0.35 -0.05 1.1 0 0.35 -0.05 4.6 0 0.35 0.05 1.05 0 0.35 0.05 0.7 0 0.35 0.05 0.75 0 0.35 0.05 0.35 0 0.35 0.05 0.35 0 0.7 0.1 0.35 0 0.35 0.05 0.35 0 0.7 0.1 0.4 0.05 0.35 0 1.4 0.2 0.35 0 2.1 0.3 0.4 0.05 1.05 0.15 0.35 0.1 1.75 0.25 0.35 0.1 0.35 0.05 0.4 0.05 0.35 0.05 0.35 0.1 1.05 0.15 0.35 0.1 0.7 0.1 0.35 0.1 0.7 0.1 0.4 0.1 0.35 0.05 0.35 0.1 0.7 0.1 0.35 0.1 0.35 0.05 0.35 0.1 0.35 0.05 0.35 0.1 0.7 0.1 0.4 0.1 0.35 0.05 0.35 0.1 0.7 0.1 0.35 0.1 0.35 0.05 0.35 0.1 0.7 0.1 0.35 0.1 0.35 0.05 0.4 0.1 0.7 0.1 0.35 0.1 1.05 0.15 0.35 0.1 1.05 0.15 0.35 0.1 0.4 0.05 3.85 0.55 0.4 0.05 1.4 0.2 0.35 0 0.7 0.1 0.35 0 0.7 0.1 0.35 0 0.4 0.05 0.35 0 0.35 0.05 0.35 0 0.35 0.05 0.7 0 0.35 0.05 1.05 0 0.35 0.05 1.8 0 0.35 -0.05 1.05 0 0.35 -0.05 0.7 0 0.35 -0.05 0.4 0 0.35 -0.05 0.35 0 0.7 -0.1 0.35 0 2.1 -0.3 0.4 -0.05 1.05 -0.15 0.35 -0.1 1.05 -0.15 0.35 -0.1 0.35 -0.05 0.35 -0.1 0.35 -0.05 0.4 -0.1 0.35 -0.05 0.7 -0.2 0.35 -0.05 1.4 -0.4 0.35 -0.05 0.7 -0.2 0.4 -0.1 2.1 -0.6 0.35 -0.15 1.4 -0.4 0.4 -0.1 0.35 -0.15 1.05 -0.3 0.35 -0.15 1.05 -0.3 0.35 -0.15 0.7 -0.2 0.4 -0.15 1.05 -0.3 0.35 -0.15 1.05 -0.3 0.35 -0.15 1.4 -0.4 0.4 -0.15 3.85 -1.1 0.4 -0.05 1.05 -0.3 0.35 -0.05 0.35 -0.1 0.35 -0.05 0.35 -0.1 0.35 -0.05 0.35 -0.1 0.35 -0.05 0.35 -0.1 0.4 -0.05 0.7 -0.1 0.35 -0.1 1.75 -0.25 0.35 0 0.7 -0.1 0.4 -0.05 0.35 0 0.35 -0.05 0.35 0 0.35 -0.05 1.05 0 0.35 -0.05 1.45 0 0.35 0.05 1.05 0 0.35 0.05 0.35 0 0.35 0.05 0.35 0 1.05 0.15 0.4 0 1.4 0.2 0.35 0.1 1.05 0.15 0.35 0.1 0.35 0.05 0.35 0.1 0.4 0.05 0.7 0.2 0.35 0.05 2.8 0.8 0.4 0.1 0.35 0.15 1.05 0.3 0.35 0.15 0.35 0.1 0.35 0.15 0.35 0.1 0.35 0.15 0.35 0.1 0.7 0.3 0.4 0.1 1.05 0.45 0.35 0.1 1.75 0.75 0.35 0.1 0.35 0.15 0.4 0.15 3.85 1.65 0.4 0.15 0.35 0.1 2.1 0.9 0.35 0.1 0.7 0.3 0.35 0.1 0.4 0.15 0.7 0.3 0.35 0.1 0.35 0.15 0.35 0.1 0.35 0.15 0.7 0.2 0.35 0.15 0.7 0.2 0.4 0.15 2.8 0.8 0.35 0.05 0.7 0.2 0.4 0.05 0.35 0.1 0.7 0.1 0.35 0.1 2.45 0.35 0.4 0.05 0.35 0 0.35 0.05 0.35 0 0.35 0.05 1.05 0 0.35 0.05 0.7 0 0.35 -0.05 1.1 0 0.35 -0.05 0.35 0 0.35 -0.05 0.35 0 0.7 -0.1 0.35 0 0.7 -0.1 0.35 -0.1 0.4 -0.05 0.35 -0.05 0.35 -0.1 0.7 -0.1 0.35 -0.1 0.35 -0.05 0.7 -0.2 0.35 -0.05 0.7 -0.2 0.4 -0.15 1.75 -0.5 0.35 -0.15 0.35 -0.1 0.35 -0.2 0.35 -0.1 0.35 -0.15 0.35 -0.1 0.4 -0.15 0.35 -0.1 0.7 -0.3 0.35 -0.2 1.75 -0.75 0.35 -0.2 0.35 -0.15 0.4 -0.2 1.05 -0.45 0.35 -0.25 0.35 -0.15 0.35 -0.2 0.7 -0.3 0.35 -0.25 0.35 -0.2 0.35 -0.15 0.4 -0.2 0.7 -0.3 0.35 -0.3 0.35 -0.15 0.35 -0.2 0.35 -0.15 0.35 -0.2 0.35 -0.25 0.35 -0.15 0.35 -0.2 0.35 -0.15 0.4 -0.2 0.35 -0.25 0.35 -0.2 0.35 -0.15 0.35 -0.2 0.35 -0.15 0.35 -0.25 0.35 -0.2 0.7 -0.3 0.35 -0.2 0.35 -0.15 0.4 -0.25 0.35 -0.15 0.35 -0.2 1.05 -0.45 0.35 -0.25 1.4 -0.6 0.35 -0.1 0.35 -0.25 0.4 -0.15 0.35 -0.15 0.35 -0.1 0.35 -0.15 0.35 -0.1 0.35 -0.15 0.35 -0.2 0.35 -0.15 1.4 -0.4 0.4 -0.1 0.35 -0.1 0.35 -0.2 0.35 -0.1 0.35 -0.05 0.35 -0.1 0.35 -0.05 0.35 -0.1 1.4 -0.2 0.4 -0.05 1.05 -0.15 0.35 0 0.35 -0.2 0.35 0 0.35 -0.05 0.7 0 0.35 -0.05 0.75 0 0.35 0.05 1.05 0 0.35 0.05 0.35 0 0.35 0.2 1.4 0.2 0.4 0.05 1.4 0.2 0.35 0.1 0.35 0.05 0.7 0.2 0.35 0.25 0.7 0.2 0.4 0.1 1.4 0.4 0.35 0.3 0.35 0.15 0.35 0.1 0.35 0.15 0.35 0.1 0.35 0.15 0.35 0.35 0.4 0.1 1.4 0.6 0.35 0.35 1.4 0.6 0.35 0.4 0.7 0.3 0.4 0.2 0.35 0.15 0.35 0.4 0.35 0.15 0.35 0.2 0.35 0.15 0.35 0.4 0.35 0.2 0.35 0.15 0.35 0.2 0.35 0.4 0.35 0.2 0.4 0.2 0.35 0.15 0.35 0.2 0.35 0.4 0.7 0.4 0.35 0.15 0.35 0.45 0.35 0.2 0.35 0.15 0.35 0.2 0.35 0.45 0.4 0.15 0.7 0.4 0.35 0.45 0.35 0.15 0.35 0.2 0.35 0.15 0.35 0.45 0.35 0.2 0.35 0.15 0.35 0.2 0.35 0.4 0.4 0.2 0.35 0.15 0.35 0.2 0.35 0.15 0.35 0.45 1.05 0.45 0.35 0.45 1.05 0.45 0.4 0.15 0.35 0.45 0.35 0.15 0.35 0.1 0.7 0.3 0.35 0.4 0.35 0.15 0.35 0.1 0.35 0.15 0.7 0.2 0.4 0.45 1.75 0.5 0.35 0.05 0.35 0.45 0.35 0.05 0.35 0.1 0.35 0.05 0.35 0.1 0.4 0.05 0.7 0.1 0.35 0.1 0.35 0.05 0.35 0.35 1.05 0.15 0.35 0 0.35 0.05 0.35 0 0.35 0.05 0.75 0 0.35 0.05 0.7 0 0.35 -0.05 1.05 0 0.35 -0.05 0.35 0 0.35 -0.05 0.4 -0.05 0.35 0 0.35 -0.05 0.35 -0.45 1.05 -0.15 0.35 -0.1 0.7 -0.1 0.35 -0.1 0.35 -0.05 0.4 -0.5 0.7 -0.2 0.35 -0.05 0.7 -0.2 0.35 -0.15 0.35 -0.5 0.7 -0.2 0.35 -0.15 0.35 -0.1 0.4 -0.55 0.35 -0.1 0.7 -0.3 0.35 -0.55 0.35 -0.15 0.35 -0.1 0.35 -0.15 0.35 -0.6 1.05 -0.45 0.4 -0.6 1.05 -0.45 0.35 -0.6 0.35 -0.15 0.35 -0.2 0.35 -0.6 0.35 -0.15 0.35 -0.2 0.35 -0.6 0.35 -0.15 0.4 -0.2 0.35 -0.15 0.35 -0.65 0.35 -0.15 0.35 -0.2 0.35 -0.6 0.35 -0.2 0.35 -0.15 0.35 -0.65 0.35 -0.2 0.35 -0.15 0.35 -0.65 0.4 -0.2 0.35 -0.15 0.35 -0.65 0.35 -0.2 0.35 -0.15 0.35 -0.65 0.35 -0.2 0.35 -0.15 0.35 -0.65 0.35 -0.15 0.35 -0.2 0.35 -0.65 0.4 -0.15 0.35 -0.15 0.35 -0.65 0.35 -0.2 0.35 -0.15 0.35 -0.65 1.05 -0.45 0.35 -0.65 0.7 -0.3 0.35 -0.65 0.4 -0.1 0.7 -0.3 0.35 -0.65 0.35 -0.1 0.35 -0.15 0.35 -0.65 1.4 -0.4 0.35 -0.65 0.4 -0.1 0.7 -0.2 0.35 -0.65 0.35 -0.05 0.7 -0.2 0.35 -0.05 0.35 -0.1 0.35 -0.6 0.35 -0.1 0.35 -0.05 0.4 -0.05 1.4 -0.2 0.35 -0.6 0.35 -0.05 0.35 0 0.7 -0.1 0.7 0 0.4 -0.05 2.45 0 0.35 0.05 0.35 0 0.35 0.05 0.35 0 0.4 0.05 0.35 0 0.35 0.05 0.35 0.65 2.1 0.3 0.35 0.65 0.35 0.1 0.4 0.05 0.35 0.1 0.35 0.05 0.35 0.1 0.35 0.7 0.35 0.05 0.7 0.2 0.35 0.7 1.05 0.3 0.4 0.7 0.35 0.1 0.35 0.15 0.35 0.7 0.35 0.15 0.7 0.2 0.35 0.75 0.35 0.1 0.35 0.15 0.35 0.75 0.35 0.15 0.35 0.1 0.4 0.8 0.35 0.1 0.35 0.8 0.35 0.1 0.35 0.15 0.35 0.8 0.35 0.1 0.35 0.15 0.35 0.8 0.35 0.1 0.35 0.8 0.35 0.15 0.4 0.15 0.35 0.8 0.35 0.1 0.35 0.85 0.35 0.1 0.35 0.15 0.35 0.8 0.35 0.15 0.35 0.8 0.35 0.15 0.35 0.8 0.35 0.15 0.4 0.1 0.35 0.85 0.35 0.1 0.35 0.85 0.35 0.1 0.35 0.15 0.35 0.8 0.35 0.15 0.35 0.8 0.35 0.15 0.35 0.8 0.35 0.1 0.4 0.15 0.35 0.8 0.35 0.15 0.35 0.1 0.35 0.8 0.35 0.1 0.35 0.85 0.7 0.2 0.35 0.85 0.7 0.2 0.4 0.8 0.35 0.1 0.35 0.8 1.05 0.3 0.35 0.8 0.35 0.1 0.35 0.05 0.35 0.85 0.7 0.1 0.4 0.85 0.7 0.1 0.35 0.1 0.35 0.8 1.4 0.2 0.35 0.8 0.7 0.1 0.4 0.05 0.35 0.05 0.35 0 0.35 0.8 0.35 0.05 0.35 0 0.35 0.05 0.35 0 0.35 0.05 0.7 0 0.35 0.05 0.75 0 0.35 0.8 1.75 0 0.35 -0.8 0.35 0 0.35 -0.05 1.1 0 0.35 -0.05 0.35 0 0.35 -0.05 0.35 0 0.35 -0.05 0.35 -0.85 0.35 0 0.7 -0.1 0.35 0 0.35 -0.85 0.4 -0.05 1.05 -0.15 0.35 -0.85 0.7 -0.1 0.35 -0.85 0.35 -0.05 0.35 -0.1 0.35 -0.05 0.35 -0.85 0.4 -0.05 0.35 -0.1 0.35 -0.85 0.35 -0.1 0.35 -0.9 0.7 -0.1 0.35 -0.9 0.35 -0.05 0.35 -0.95 0.7 -0.1 0.4 -0.9 0.35 -0.1 0.35 -0.9 0.35 -0.05 0.35 -0.95 0.35 -0.05 0.35 -0.95 0.35 -0.05 0.35 -0.95 0.35 -0.05 0.35 -0.95 0.35 -0.05 0.4 -0.95 0.35 -0.05 0.35 -0.95 0.35 -0.05 0.35 -0.95 0.35 -0.05 0.35 -0.95 0.35 -0.05 0.35 -0.95 0.35 -0.05 0.35 -0.95 0.35 -0.1 0.4 -0.9 0.35 -0.1 0.35 -0.95 0.35 -0.05 0.35 -0.95 0.35 -0.05 0.7 -1.9 0.35 -0.05 0.35 -0.95 0.35 -0.05 0.35 -0.95 0.4 -0.05 0.35 -0.95 0.35 -0.05 0.35 -0.95 0.35 -0.05 0.35 -0.95 0.35 -0.1 0.35 -0.9 0.35 -0.1 0.35 -0.9 0.35 -0.05 0.35 -0.95 0.35 -0.05 0.4 -0.95 0.35 -0.05 0.35 -0.95 0.7 -0.1 0.35 -0.95 0.35 -0.05 0.35 -0.95 0.35 0 0.35 -0.95 0.7 -0.1 0.4 -0.95 0.35 0 0.35 -0.05 0.35 -0.95 0.35 0 0.35 -0.05 0.35 -0.95 0.35 0 0.35 -0.05 0.35 -0.9 0.35 -0.05 0.35 0 0.4 -0.05 0.35 -0.95 1.05 0 0.35 -0.05 0.35 -0.9 0.35 -0.05 2.15 0 0.35 -0.05 0.35 0 0.35 -0.9 0.7 0 0.35 0.9 0.35 0 0.35 0.05 2.5 0 0.35 1 1.4 0 0.35 1 1.1 0 0.35 1 0.7 0 0.35 1 0.35 0 0.35 1 0.7 0 0.35 1 0.35 0 0.4 1 0.7 0 0.35 1 0.35 0 0.35 1 0.35 0 0.35 1 0.35 0 0.35 1 0.35 0 0.7 2 0.4 0 0.35 1 0.35 0 0.35 1 0.35 0 0.7 2 0.35 0 0.7 2 0.35 0 0.35 1 0.4 0 0.7 2 0.35 0 0.7 2 0.35 0 0.7 2 0.35 0 0.7 2 0.4 0 0.7 2 0.35 0 0.7 2 0.35 0 0.7 2 0.35 0 0.35 1 0.35 0 0.4 1 0.35 1 0.35 0 0.7 2 0.35 0 0.35 1 0.35 0 0.7 2 0.35 0 0.35 1 0.4 0 0.35 1 0.35 0 0.35 1 0.35 0 0.7 2 0.35 0 0.35 1 0.7 0 0.35 1 0.4 0 0.35 1 0.35 0 0.35 1 0.7 0 0.35 1 0.35 0 0.35 1 1.05 0 0.4 1 0.7 0 0.35 1 1.4 0 0.35 1 2.85 0 0.35 1 1.4 0 0.35 -1 2.85 0 0.35 -1 1.05 0 0.35 -1 0.75 0 0.35 -1 0.7 0 0.35 -1 0.7 0 0.35 -1 0.35 0 0.35 -1 0.35 0 0.35 -1 0.4 0 0.35 -1 0.35 0 0.35 -1 0.35 0 0.35 -1 0.35 0 0.35 -1 0.35 0 0.7 -2 0.35 0 0.4 -1 0.35 -1 0.35 0 0.7 -2 0.35 0 0.7 -2 0.35 0 1.05 -3 0.4 0 1.4 -4 0.35 0 1.4 -4 0.35 0 0.35 -1 0.4 -1 1.05 -3 0.35 0 1.75 -5 0.35 0 0.35 -1 0.4 -1 0.7 -2 0.35 0 1.75 -5 0.35 0 1.05 -3 0.4 0 1.05 -3 0.35 0 0.7 -2 0.35 0 0.7 -2 0.35 0 0.35 -1 0.4 -1 0.35 0 0.35 -1 0.35 0 0.35 -1 0.35 0 0.35 -1 0.35 0 0.35 -1 0.35 0 0.35 -1 0.35 0 0.4 -1 0.7 0 0.35 -1 0.7 0 0.35 -1 0.7 0 0.35 -1 2.85 0 0.35 -1 0.35 0 0.35 1 2.5 0 0.35 1 1.05 0 0.35 1 0.7 0 0.35 1 0.4 0 0.35 1 0.7 0 0.35 1 0.35 0 0.35 1 0.35 0 0.7 2 0.35 0 0.35 1 0.4 0 0.7 2 0.35 0 0.7 2 0.35 0 1.4 4 0.35 0 0.4 1 1.05 3 0.35 0 2.8 8 0.4 1 0.7 2 0.35 0 2.8 8 0.4 1 3.85 11 0.4 1 2.45 7 0.35 0 1.05 3 0.4 1 0.7 2 0.35 0 1.4 4 0.35 0 1.05 3 0.4 0 0.7 2 0.35 0 0.35 1 0.35 0 0.7 2 0.35 0 0.35 1 0.35 0 0.35 1 0.75 0 0.35 1 0.35 0 0.35 1 0.7 0 0.35 1 1.05 0 0.35 1 2.15 0 0.35 1 1.4 0 0.35 -1 2.15 0 0.35 -1 0.7 0 0.35 -1 0.7 0 0.35 -1 0.75 0 0.35 -1 0.35 0 0.35 -1 0.35 0 0.35 -1 0.35 0 0.7 -2 0.35 0 0.35 -1 0.4 -1 0.35 0 1.05 -3 0.35 0 1.75 -5 0.35 0 0.4 -1 3.85 -11 0.4 -1 0.35 -2 2.1 -6 0.35 -2 1.05 -3 0.4 -1 0.35 -1 0.35 -2 1.4 -4 0.35 -2 1.4 -4 0.4 -2 1.75 -5 0.35 -2 2.1 -6 0.4 -1 0.35 -2 3.5 -10 0.4 0 1.75 -5 0.35 0 1.05 -3 0.35 0 0.35 -1 0.4 -1 0.35 0 0.35 -1 0.35 0 0.35 -1 0.35 0 0.35 -1 0.35 0 0.35 -1 0.7 0 0.35 -1 0.75 0 0.35 -1 4.6 0 0.35 1 1.05 0 0.35 1 0.7 0 0.35 1 0.4 0 0.35 1 0.35 0 0.35 1 0.35 0 0.7 2 0.35 0 0.7 2 0.35 0 0.35 1 0.4 1 0.7 2 0.35 0 2.8 8 0.4 1 0.35 1 0.35 2 1.75 5 0.35 2 1.05 3 0.35 2 0.4 1 0.35 1 0.35 2 0.7 2 0.35 2 0.7 2 0.35 2 0.35 1 0.35 2 0.35 1 0.4 1 0.35 2 0.35 1 0.35 2 0.7 2 0.35 2 0.35 1 0.35 2 0.7 2 0.35 2 0.4 1 0.35 1 0.35 2 0.35 1 0.35 2 0.7 2 0.35 2 0.7 2 0.35 2 0.35 1 0.4 1 0.35 1 0.35 2 1.4 4 0.35 2 1.4 4 0.4 1 3.5 10 0.35 0 0.4 1 0.7 2 0.35 0 0.7 2 0.35 0 0.35 1 0.35 0 0.35 1 0.35 0 0.35 1 0.4 0 0.35 1 0.7 0 0.35 1 1.05 0 0.35 1 2.85 0 0.35 -1 1.05 0 0.35 -1 0.7 0 0.35 -1 0.4 0 0.35 -1 0.35 0 0.35 -1 0.35 0 0.35 -1 0.35 0 1.05 -3 0.35 0 0.35 -1 0.4 -1 3.85 -11 0.4 -1 0.35 -2 0.7 -2 0.35 -2 0.7 -2 0.35 -2 0.7 -2 0.35 -2 0.35 -1 0.4 -2 0.35 -1 0.35 -2 0.35 -1 0.7 -4 0.35 -1 0.35 -2 0.35 -1 0.7 -4 0.35 -1 0.4 -2 0.35 -2 0.35 -1 1.05 -6 0.35 -1 0.7 -4 0.35 -1 0.7 -4 0.4 -2 0.35 -1 0.7 -4 0.35 -1 0.7 -4 0.35 -1 0.7 -4 0.35 -1 0.35 -2 0.4 -2 0.35 -1 0.35 -2 0.35 -1 0.35 -2 0.35 -1 0.35 -2 0.35 -1 0.35 -2 0.35 -1 0.35 -2 0.35 -1 0.35 -2 0.4 -1 0.35 -1 0.35 -2 1.05 -3 0.35 -2 1.75 -5 0.4 -1 1.4 -4 0.35 0 1.05 -3 0.35 0 0.7 -2 0.4 0 0.35 -1 0.35 0 0.35 -1 0.7 0 0.35 -1 1.75 0 0.4 -1 0.35 0 0.35 1 1.75 0 0.35 1 0.35 0 0.35 1 0.35 0 0.4 1 0.35 0 0.35 1 0.35 0 0.7 2 0.35 0 1.75 5 0.4 1 1.05 3 0.35 2 1.05 3 0.35 2 0.7 2 0.35 2 0.4 1 0.35 2 0.35 1 0.35 2 0.35 1 0.7 4 0.35 1 0.7 4 0.35 1 0.7 4 0.4 2 0.35 1 2.1 12 0.35 1 1.05 6 0.4 2 3.85 22 0.4 2 1.75 10 0.35 1 1.75 10 0.4 2 0.35 1 1.4 8 0.35 1 0.7 4 0.35 1 0.35 2 0.35 1 0.4 2 0.35 1 0.35 2 0.35 1 0.35 2 0.35 1 0.35 2 1.05 3 0.35 2 0.35 1 0.4 1 2.8 8 0.35 0 0.7 2 0.4 0 0.7 2 0.35 0 0.35 1 0.7 0 0.35 1 1.4 0 0.4 1 1.05 0 0.35 -1 1.4 0 0.35 -1 0.35 0 0.35 -1 0.35 0 0.4 -1 0.35 0 0.35 -1 0.35 0 1.4 -4 0.35 0 1.05 -3 0.4 -2 1.4 -4 0.35 -2 0.7 -2 0.35 -2 0.35 -1 0.35 -2 0.35 -1 0.4 -2 0.35 -1 1.05 -6 0.35 -1 2.1 -12 0.4 -1 0.35 -2 0.35 -3 2.45 -14 0.35 -3 0.35 -2 0.4 -2 0.7 -4 0.35 -3 0.7 -4 0.35 -3 0.7 -4 0.35 -3 0.7 -4 0.4 -3 1.05 -6 0.35 -3 0.7 -4 0.35 -3 1.05 -6 0.35 -3 0.4 -2 0.7 -4 0.35 -3 3.15 -18 0.4 -2 1.05 -6 0.35 -1 0.7 -4 0.35 -1 0.7 -4 0.35 -1 0.35 -2 0.4 -1 0.35 -2 0.7 -2 0.35 -2 1.4 -4 0.35 -2 0.35 -1 0.35 0 0.4 -1 1.05 -3 0.35 0 0.7 -2 0.7 0 0.35 -1 0.7 0 0.4 -1 2.1 0 0.35 1 0.7 0 0.35 1 0.35 0 0.4 1 0.35 0 0.7 2 0.35 0 2.45 7 0.4 2 1.05 3 0.35 2 0.35 1 0.35 2 0.35 1 0.7 4 0.35 1 0.35 2 0.4 2 3.85 22 0.35 3 0.4 2 0.35 2 0.35 3 0.35 2 0.35 3 0.7 4 0.35 3 0.35 2 0.7 6 0.35 2 0.4 3 0.35 2 0.7 6 0.35 2 0.35 3 0.35 2 0.7 6 0.35 2 0.7 6 0.4 2 0.7 6 0.35 2 0.7 6 0.35 2 0.7 6 0.35 2 0.35 3 0.35 2 0.4 3 0.35 2 0.35 3 0.35 2 0.35 3 0.35 2 0.35 3 0.7 4 0.35 3 0.7 4 0.4 3 3.85 22 0.4 1 0.7 4 0.35 1 0.35 2 0.35 1 0.35 2 0.35 1 0.35 2 1.05 3 0.4 1 0.35 2 0.35 1 0.35 0 1.4 4 0.35 0 0.7 2 0.75 0 0.35 1 1.05 0 0.35 1 0.7 0 0.35 -1 1.05 0 0.35 -1 0.4 0 0.35 -1 0.35 0 0.35 -1 0.35 0 2.45 -7 0.4 -1 0.35 -2 0.7 -2 0.35 -2 0.35 -1 0.7 -4 0.35 -1 1.05 -6 0.4 -2 2.1 -12 0.35 -3 0.7 -4 0.35 -3 0.35 -2 0.4 -3 0.35 -2 0.7 -6 0.35 -2 0.7 -6 0.35 -2 1.4 -12 0.4 -3 3.85 -33 0.4 -3 0.35 -4 2.1 -18 0.35 -4 1.05 -9 0.4 -3 2.8 -24 0.35 -2 1.05 -9 0.4 -3 0.35 -2 0.7 -6 0.35 -2 0.35 -3 0.35 -2 0.35 -3 0.7 -4 0.35 -3 0.35 -2 0.4 -2 2.45 -14 0.35 -1 0.35 -2 0.35 -1 0.35 -2 0.4 -1 0.35 -2 2.45 -7 0.35 0 0.7 -2 0.4 0 0.35 -1 1.05 0 0.35 -1 0.7 0 0.35 1 1.05 0 0.4 1 0.35 0 1.05 3 0.35 0 1.05 3 0.35 2 0.7 2 0.4 2 0.35 1 0.35 2 0.35 1 1.05 6 0.35 1 0.7 4 0.35 3 0.35 2 0.4 2 0.35 2 0.35 3 0.35 2 0.35 3 0.35 2 0.7 6 0.35 2 1.05 9 0.4 3 2.1 18 0.35 4 1.05 9 0.35 4 0.35 3 0.4 4 0.7 6 0.35 4 0.35 3 0.35 4 0.35 3 0.7 8 0.35 3 0.35 4 0.35 3 0.4 4 0.35 3 0.35 4 0.35 3 0.7 8 0.35 3 0.35 4 0.35 3 0.35 4 0.35 3 0.35 4 0.4 3 0.35 3 0.35 4 0.7 6 0.35 4 0.7 6 0.35 4 1.05 9 0.4 3 1.75 15 0.35 2 0.7 6 0.35 2 0.35 3 0.35 2 0.4 3 0.35 2 0.35 3 2.8 16 0.35 1 0.4 2 0.35 1 0.35 2 0.7 2 0.35 2 1.75 5 0.35 0 0.4 1 0.35 0 0.35 1 0.35 0 0.35 1 2.1 0 0.35 -1 0.35 0 0.4 -1 0.35 0 0.35 -1 0.35 0 1.75 -5 0.35 -2 0.7 -2 0.4 -2 0.35 -1 1.05 -6 0.35 -1 0.7 -4 0.35 -3 1.05 -6 0.4 -3 0.35 -2 0.7 -6 0.35 -2 2.45 -21 0.4 -3 0.35 -4 0.7 -6 0.35 -4 0.35 -3 0.35 -4 0.35 -3 0.35 -4 0.35 -3 0.7 -8 0.4 -4 0.35 -4 0.35 -3 3.15 -36 0.4 -4 2.45 -28 0.35 -5 1.05 -12 0.4 -4 2.45 -28 0.35 -3 1.05 -12 0.4 -4 0.35 -3 0.7 -8 0.35 -3 0.35 -4 0.7 -6 0.35 -4 1.4 -12 0.4 -3 1.4 -12 0.35 -2 0.35 -3 0.7 -4 0.35 -3 0.7 -4 0.4 -2 0.35 -2 0.35 -1 0.7 -4 0.35 -1 0.35 -2 1.75 -5 0.4 -1 0.35 -1 0.35 0 0.35 -1 0.7 0 0.35 -1 1.4 0 0.35 1 0.4 0 0.35 1 0.35 0 2.1 6 0.35 2 0.7 2 0.4 2 2.45 14 0.35 3 0.35 2 0.35 3 0.35 2 0.4 3 2.45 21 0.35 4 0.35 3 0.35 4 0.35 3 0.4 4 0.35 4 0.35 3 2.8 32 0.35 5 0.35 4 0.4 4 0.35 5 0.7 8 0.35 5 0.35 4 0.35 5 0.35 4 0.35 5 0.35 4 0.7 10 0.4 4 0.7 10 0.35 4 0.35 5 0.35 4 0.7 10 0.35 4 0.35 5 0.35 4 0.35 5 0.4 4 0.35 5 0.35 4 0.35 5 0.7 8 0.35 5 0.7 8 0.35 5 0.7 8 0.4 4 1.4 16 0.35 3 0.7 8 0.35 3 0.35 4 0.35 3 0.35 4 0.4 3 0.7 6 0.35 4 0.35 3 0.35 2 1.05 9 0.35 2 0.35 3 0.35 2 0.4 3 2.1 12 0.35 1 0.35 2 0.35 1 0.35 2 0.35 1 0.4 1 1.05 3 0.35 0 0.35 1 0.35 0 0.35 1 2.15 0 0.35 -1 0.35 0 0.35 -1 0.35 0 1.05 -3 0.35 -2 0.7 -2 0.35 -2 0.4 -1 2.1 -12 0.35 -3 0.35 -2 0.35 -3 0.35 -2 0.35 -3 0.4 -3 1.05 -9 0.35 -4 0.7 -6 0.35 -4 0.35 -3 1.05 -12 0.4 -4 1.4 -16 0.35 -5 0.7 -8 0.35 -5 0.35 -4 0.7 -10 0.4 -4 1.75 -25 0.35 -4 1.05 -15 0.35 -6 0.35 -5 0.4 -5 1.4 -20 0.35 -6 1.75 -25 0.35 -6 0.4 -5 3.85 -55 0.4 -5 0.7 -10 0.35 -4 0.35 -5 0.35 -4 0.35 -5 0.35 -4 0.35 -5 0.7 -8 0.35 -5 0.35 -4 0.4 -4 0.7 -8 0.35 -3 0.7 -8 0.35 -3 0.35 -4 0.7 -6 0.35 -4 0.35 -3 0.4 -3 0.35 -2 0.7 -6 0.35 -2 0.35 -3 1.75 -10 0.35 -1 0.4 -2 2.1 -6 0.7 0 0.35 -1 1.1 0 0.35 1 0.7 0 2.1 6 0.35 2 0.35 1 0.4 2 1.4 8 0.35 3 0.35 2 0.35 3 0.35 2 1.05 9 0.4 3 0.35 4 0.35 3 0.35 4 0.35 3 2.45 28 0.4 5 0.35 4 0.7 10 0.35 4 1.75 25 0.35 6 0.35 5 0.35 6 0.4 5 0.35 6 0.35 5 0.35 6 0.35 5 1.05 18 0.35 5 1.05 18 0.4 6 0.7 12 0.35 5 2.8 48 0.4 5 1.4 24 0.35 5 0.35 6 0.35 5 0.35 6 0.35 5 0.35 6 0.35 5 0.4 6 3.15 45 0.35 4 0.35 5 0.4 4 0.35 5 2.45 28 0.35 3 0.35 4 0.35 3 0.4 4 1.4 12 0.35 2 0.35 3 0.7 4 0.35 3 0.7 4 0.4 1 0.7 4 2.1 6 0.35 0 0.35 1 1.8 0 0.35 -1 0.35 0 1.75 -5 0.35 -2 0.35 -1 0.4 -2 1.4 -8 0.35 -3 0.35 -2 1.75 -15 0.4 -4 0.35 -3 0.35 -4 0.35 -3 1.4 -16 0.35 -5 0.35 -4 0.35 -5 0.35 -4 0.4 -5 2.1 -30 0.35 -6 0.35 -5 0.35 -6 0.35 -5 0.35 -6 0.4 -6 0.35 -6 0.35 -5 1.05 -18 0.35 -7 1.4 -24 0.35 -7 0.4 -6 0.35 -7 0.7 -12 0.35 -7 0.35 -6 0.35 -7 0.35 -6 0.7 -14 0.35 -6 0.35 -7 0.4 -6 0.35 -7 0.35 -6 0.35 -7 0.35 -6 0.35 -7 0.35 -6 0.35 -7 0.7 -12 0.35 -7 0.35 -6 0.4 -6 0.35 -6 0.35 -7 1.05 -18 0.35 -5" fill="none" stroke="#0000ff" stroke-width="10" stroke-linejoin="miter" stroke-miterlimit="2.5"/>
<rect x="215.5" y="419.2" width="10" height="10" fill="#0000ff"/>
<rect x="1745.3" y="260.0" width="10" height="10" fill="#0000ff"/>
<path d="M220.5 424.2l225.2 0 0.35 -0.05 16.65 0 0.35 -0.05 12.05 0 0.35 -0.05 10.3 0 0.35 -0.05 8.5 0 0.35 -0.05 4.95 0 0.35 -0.05 3.9 0 0.35 -0.05 3.2 0 0.35 -0.05 3.2 0 0.35 -0.05 2.8 0 0.35 -0.05 2.5 0 0.35 -0.05 2.85 0 0.35 -0.05 2.45 0 0.4 -0.05 2.45 0 0.35 -0.05 2.15 0 0.35 -0.05 2.45 0 0.35 -0.05 2.5 0 0.35 -0.05 2.5 0 0.35 -0.05 2.45 0 0.35 -0.05 2.15 0 0.35 -0.05 2.5 0 0.35 -0.05 2.1 0 0.35 -0.05 2.15 0 0.35 -0.05 2.1 0 0.35 -0.05 2.15 0 0.35 -0.05 1.75 0 0.35 -0.05 2.15 0 0.35 -0.05 1.75 0 0.4 -0.05 2.1 0 0.35 -0.05 1.8 0 0.35 -0.05 1.75 0 0.35 -0.05 1.8 0 0.35 -0.05 1.75 0 0.35 -0.05 1.75 0 0.4 -0.05 1.75 0 0.35 -0.05 1.4 0 0.35 -0.05 1.8 0 0.35 -0.05 1.75 0 0.35 -0.05 1.45 0 0.35 -0.05 1.75 0 0.35 -0.05 1.8 0 0.35 -0.05 1.4 0 0.35 -0.05 1.8 0 0.35 -0.05 1.4 0 0.35 -0.05 1.8 0 0.35 -0.05 1.4 0 0.35 -0.05 1.8 0 0.35 -0.05 1.4 0 0.35 -0.05 1.4 0 0.35 -0.05 1.8 0 0.35 -0.05 1.4 0 0.35 -0.05 1.45 0 0.35 -0.05 1.4 0 0.35 -0.05 1.4 0 0.4 -0.05 1.4 0 0.35 -0.05 1.4 0 0.35 -0.05 1.45 0 0.35 -0.05 1.4 0 0.35 -0.05 1.45 0 0.35 -0.05 1.4 0 0.35 -0.05 1.4 0 0.35 -0.05 1.1 0 0.35 -0.05 1.4 0 0.35 -0.05 1.45 0 0.35 -0.05 1.05 0 0.35 -0.05 1.4 0 0.35 -0.05 1.45 0 0.35 -0.05 1.05 0 0.35 -0.05 1.4 0 0.35 -0.05 1.1 0 0.35 -0.05 1.4 0 0.35 -0.05 1.05 0 0.4 -0.05 1.05 0 0.35 -0.05 1.4 0 0.35 -0.05 1.1 0 0.35 -0.05 1.05 0 0.35 -0.05 1.05 0 0.35 -0.05 1.45 0 0.35 -0.05 1.05 0 0.35 -0.05 1.05 0 0.35 -0.05 1.1 0 0.35 -0.05 1.05 0 0.35 -0.05 1.05 0 0.35 -0.05 0.75 0 0.35 -0.05 1.05 0 0.35 -0.05 1.05 0 0.35 -0.05 1.1 0 0.35 -0.05 0.7 0 0.35 -0.05 1.05 0 0.35 -0.05 0.7 0 0.35 -0.05 1.1 0 0.35 -0.05 0.7 0 0.35 -0.05 1.05 0 0.35 -0.05 0.7 0 0.4 -0.05 1.05 0 0.35 -0.05 0.7 0 0.35 -0.05 1.05 0 0.35 -0.05 0.75 0 0.35 -0.05 0.7 0 0.35 -0.05 1.05 0 0.35 -0.05 0.7 0 0.4 -0.05 1.05 0 0.35 -0.05 0.7 0 0.35 -0.05 0.7 0 0.35 -0.05 1.1 0 0.35 -0.05 0.7 0 0.35 -0.05 0.7 0 0.35 -0.05 1.05 0 0.4 -0.05 0.7 0 0.35 -0.05 1.05 0 0.35 -0.05 0.7 0 0.35 -0.05 1.1 0 0.35 -0.05 0.7 0 0.35 -0.05 1.05 0 0.35 -0.05 0.7 0 0.35 -0.05 1.1 0 0.35 -0.05 0.7 0 0.35 -0.05 1.05 0 0.35 -0.05 1.1 0 0.35 -0.05 0.7 0 0.35 -0.05 1.05 0 0.35 -0.05 1.1 0 0.35 -0.05 1.05 0 0.35 -0.05 1.05 0 0.35 -0.05 1.1 0 0.35 -0.05 1.05 0 0.35 -0.05 1.05 0 0.35 -0.05 1.45 0 0.35 -0.05 1.05 0 0.35 -0.05 1.4 0 0.35 -0.05 1.45 0 0.35 -0.05 1.05 0 0.35 -0.05 1.45 0 0.35 -0.05 1.4 0 0.35 -0.05 1.05 0 0.35 -0.05 1.45 0 0.35 -0.05 1.4 0 0.35 -0.05 1.4 0 0.4 -0.05 1.05 0 0.35 -0.05 1.4 0 0.35 -0.05 1.1 0 0.35 -0.05 1.4 0 0.35 -0.05 1.05 0 0.35 -0.05 1.1 0 0.35 -0.05 1.4 0 0.35 -0.05 1.05 0 0.35 -0.05 1.1 0 0.35 -0.05 0.7 0 0.35 -0.05 1.05 0 0.35 -0.05 1.1 0 0.35 -0.05 0.7 0 0.35 -0.05 1.05 0 0.35 -0.05 0.75 0 0.3 -0.05 1.1 0 0.7 -0.1 0.7 0 0.35 -0.05 0.75 0 0.3 -0.05 0.75 0 0.35 -0.05 0.7 0 0.35 -0.05 0.35 0 0.35 -0.05 0.75 0 0.3 -0.05 0.35 0 0.4 -0.05 0.65 0 0.4 -0.05 0.35 0 0.35 -0.05 0.7 0 0.35 -0.05 0.35 0 0.35 -0.05 0.35 0 0.4 -0.05 0.7 0 0.35 -0.05 0.35 0 0.35 -0.05 0.35 0 0.35 -0.05 0.7 0 0.35 -0.05 0.4 0 0.3 -0.05 0.35 0 0.4 -0.05 0.35 0 0.3 -0.1 0.75 0 0.4 -0.05 0.3 0 0.35 -0.05 0.4 0 0.3 -0.05 0.35 0 0.4 -0.05 0.35 0 0.3 -0.05 0.4 0 0.35 -0.05 0.7 0 0.35 -0.05 0.4 0 0.3 -0.05 0.35 0 0.4 -0.05 0.35 0 0.3 -0.05 0.4 0 0.35 -0.05 0.7 0 0.35 -0.05 0.35 0 0.4 -0.05 0.3 0 0.35 -0.05 0.4 0 0.3 -0.05 0.75 0 0.3 -0.05 0.45 0 0.3 -0.05 0.35 0 0.4 -0.05 0.3 0 0.35 -0.1 0.4 -0.05 0.3 0 0.35 -0.05 0.7 0 0.35 -0.05 0.4 0 0.35 -0.05 0.7 0 0.35 -0.05 0.4 0 0.3 -0.05 0.75 0 0.35 -0.05 0.3 0 0.4 -0.05 0.65 0 0.4 -0.05 0.35 0 0.4 -0.05 0.65 0 0.4 -0.05 0.65 0 0.45 -0.05 0.6 0 0.45 -0.05 0.6 0 0.45 -0.05 0.6 0 0.45 -0.05 1.05 0 0.3 -0.05 0.75 0 0.3 -0.05 1.05 0 0.45 -0.2 1.05 0 0.3 -0.05 0.75 0 0.3 -0.05 1.05 0 0.45 -0.05 1.1 0 0.25 -0.05 1.05 0 0.3 -0.05 1.25 0 0.3 -0.05 1.05 0 0.3 -0.05 1.05 0 0.45 -0.05 1.05 0 0.3 -0.05 1.05 0 0.45 -0.05 1.35 0 0.3 -0.05 1.05 0 0.45 -0.05 1.35 0 0.3 -0.05 1.25 0 0.25 -0.05 1.35 0 0.5 -0.05 1.05 0 0.25 -0.05 0.3 -0.2 0.5 -0.05 1.05 0 0.25 -0.05 1.05 0 0.5 -0.05 1.05 0 0.3 -0.05 1.05 0 0.25 -0.05 1.3 0 0.25 -0.05 0.8 0 0.25 -0.05 1.05 0 0.25 -0.05 1.05 0 0.55 -0.05 0.5 0 0.55 -0.05 1.05 0 0.25 -0.05 0.75 0 0.25 -0.05 1.05 0 0.55 -0.05 0.5 0 0.55 -0.05 0.8 0 0.25 -0.05 0.25 -0.3 0.55 0 0.25 -0.05 0.25 0 0.55 -0.05 0.5 0 0.55 -0.05 0.45 0 0.6 -0.05 0.2 0 0.25 -0.05 0.8 0 0.6 -0.05 0.2 0 0.25 -0.05 0.8 0 0.25 -0.05 0.55 0 0.25 -0.05 0.8 0 0.25 -0.05 0.2 0 0.6 -0.05 0.45 0 0.6 -0.05 0.2 0 0.6 -0.05 0.45 0 0.6 -0.4 0.2 -0.05 0.85 0 0.2 -0.05 0.25 0 0.6 -0.05 0.2 0 0.2 -0.05 0.85 0 0.2 -0.05 0.6 0 0.25 -0.05 0.6 0 0.2 -0.05 0.8 0 0.25 -0.05 0.2 0 0.6 -0.05 0.2 0 0.25 -0.05 0.8 0 0.2 -0.05 0.65 0 0.2 -0.05 0.6 -0.4 0.25 -0.05 0.2 0 0.6 -0.05 0.4 0 0.65 -0.05 0.2 0 0.2 -0.05 0.65 0 0.2 -0.05 0.8 0 0.2 -0.05 0.2 0 0.65 -0.05 0.85 0 0.2 -0.05 0.2 0 0.65 -0.05 0.35 0 0.65 -0.05 0.4 0 0.65 -0.05 0.2 0 0.2 -0.5 0.85 0 0.15 -0.05 0.65 0 0.2 -0.05 0.85 0 0.2 -0.05 0.85 0 0.15 -0.05 0.85 0 0.2 -0.05 0.85 0 0.2 -0.05 0.85 0 0.65 -0.05 0.35 0 0.7 -0.05 1 0 0.2 -0.05 1.05 0 0.15 -0.05 0.7 -0.5 0.15 -0.05 1.05 0 0.7 -0.05 0.3 0 0.7 -0.05 1.05 0 0.15 -0.05 1.05 0 0.15 -0.05 1.05 0 0.7 -0.05 1 0 0.15 -0.05 1.05 0 0.7 -0.05 1.05 0 0.15 -0.05 1 0 0.75 -0.6 0.3 0 0.7 -0.05 1.2 0 0.15 -0.05 1 0 0.75 -0.05 1.15 0 0.75 -0.05 1.2 0 0.1 -0.05 1.8 0 0.15 -0.05 1.9 0 0.15 -0.05 1.9 0 0.1 -0.05 0.8 -0.6 0.1 -0.05 1.95 0 0.1 -0.05 1.95 0 0.1 -0.05 2.8 0 0.15 -0.05 2.95 0 0.1 -0.05 3.05 0 0.8 -0.05 3.15 0 0.85 -0.05 1 0 0.1 -0.7 0.8 0 0.1 -0.05 2.95 0 0.1 -0.05 2.95 0 0.1 -0.05 2.9 0 0.05 -0.05 2.9 0 0.1 -0.05 1.05 0 0.9 -0.8 1 0 0.05 -0.05 1.9 0 0.05 -0.05 1.1 0 0.9 -0.05 1.05 0 0.1 -0.05 0.85 0 0.05 -0.8 0.1 0 0.85 -0.05 1.1 0 0.9 -0.05 1.05 0 0.05 -0.05 1.9 0 0.05 -0.85 0.1 -0.05 1.9 0 0.05 -0.05 1.9 0 0.05 -0.05 1.95 0 0.05 -0.9 1.95 0 0.05 -0.05 2 0 0.05 -0.05 1.95 0 0 -0.9 2 0 0.05 -0.05 2.95 0 0 -0.05 1.95 0 0.05 -0.9 1 0 0.05 -0.05 2.95 0 0.95 -0.05 1 0 0.05 -0.9 0.95 0 0.05 -0.05 3.95 0 0.05 -0.05 0.95 0 0.05 -0.9 1 -0.05 6 0 0 -0.05 1 -0.9 0 -0.05 33 0 0 -1 10 0 1 -1 4 0 0 -1 4 0 0 -1 4 0 0 -1 4 0 0 -1 4 0 0 -1 4 0 1 -1 3 0 0 -1 4 0 0 -1 3 0 1 -1 3 0 1 -1 4 0 0 -1 7 0 0 -1 25 0 0 -1 14 0 0 -1 6 0 1 -1 3 0 0 -1 3 0 0 -1 2 0 1 -1 2 0 0 -1 2 0 1 -1 2 0 1 -1 2 0 1 -1 2 0 1 -1 3 0 0 -1 3 0 0 -1 3 0 0 -1 3 0 1 -1 3 0 0 -1 5 0 0 -1 7 0 0 -1 13 0 0 -1 15 0 1 -1 6 0 0 -1 5 0 0 -1 4 0 0 -1 3 0 0 -1 3 0 0 -1 2 0 1 -1 2 0 1 -1 1 0 1 -1 2 0 0 -1 2 0 0 -1 2 0 0 -1 2 0 1 -1 1 0 1 -1 2 0 0 -1 3 0 0 -1 2 0 1 -1 2 0 0 -1 3 0 0 -1 3 0 0 -1 3 0 1 -1 3 0 0 -1 4 0 1 -1 11 0 0 -1 18 0 0 -1 7 0 0 -1 3 0 0 -1 2 0 1 -1 2 0 0 -1 2 0 0 -1 2 0 1 -1 1 0 0 -1 2 0 0 -1 1 0 1 -1 1 0 0 -1 1 0 1 -1 1 0 0 -1 2 0 0 -1 2 0 0 -1 1 0 1 -1 1 0 1 -1 1 0 0 -1 2 0 0 -1 2 0 0 -1 2 0 0 -1 2 0 0 -1 2 0 0 -1 2 0 0 -1 2 0 0 -1 3 0 0 -1 2 0 0 -1 3 0 0 -1 5 0 0 -1 6 0 0 -1 11 0 0 -1 13 0 1 -1 4 0 0 -1 4 0 0 -1 3 0 0 -1 3 0 0 -1 2 0 0 -1 1 0 1 -1 1 0 1 -1 1 0 0 -1 1 0 1 -1 1 0 0 -1 2 0 0 -1 2 0 0 -1 1 0 0 -1 2 0 0 -1 1 0 1 -1 1 0 0 -1 1 0 0 -1 2 0 0 -1 1 0 1 -1 1 0 0 -1 1 0 1 -1 1 0 0 -1 2 0 0 -1 1 0 1 -1 1 0 0 -1 2 0 0 -1 1 0 1 -1 1 0 1 -1 2 0 0 -1 2 0 0 -1 3 0 0 -1 2 0 0 -1 3 0 1 -1 4 0 0 -1 8 0 0 -1 9 0 0 -1 6 0 0 -1 4 0 1 -1 3 0 0 -1 3 0 0 -1 2 0 0 -1 1 0 1 -1 1 0 1 -1 1 0 0 -1 1 0 1 -1 1 0 0 -1 1 0 1 -1 1 0 0 -1 1 0 0 -1 1 0 1 -1 1 0 0 -1 1 0 0 -1 1 0 0 -1 1 0 2 -2 1 0 0 -1 1 0 0 -1 1 0 0 -1 1 0 0 -1 1 0 0 -1 2 0 0 -1 1 0 0 -1 1 0 0 -1 2 -2 1 0 0 -1 1 0 0 -1 1 0 0 -1 1 0 0 -1 1 0 0 -1 2 0 0 -1 1 0 1 -1 1 0 1 -1 1 0 1 -1 2 0 0 -1 2 0 1 -1 2 0 0 -1 3 0 1 -1 3 0 0 -1 5 0 0 -1 5 0 1 -1 8 0 0 -1 7 0 0 -1 3 0 0 -1 2 0 0 -1 2 0 0 -1 2 0 0 -1 1 0 1 -1 1 0 0 -1 1 0 1 -1 1 0 2 -2 1 0 0 -1 1 0 0 -1 1 0 0 -1 1 0 4 -4 0 -1 1 0 0 -1 1 0 4 -4 1 0 0 -1 1 0 0 -1 1 0 0 -1 1 0 0 -1 1 0 0 -1 1 0 0 -1 1 0 3 -3 1 0 0 -1 1 0 0 -1 1 0 0 -1 1 0 0 -1 1 0 2 -2 1 0 0 -1 1 0 0 -1 1 0 0 -1 1 0 2 -2 1 0 0 -1 1 0 1 -1 1 0 0 -1 1 0 1 -1 2 0 0 -1 2 0 0 -1 2 0 0 -1 2 0 1 -1 2 0 0 -1 4 0 0 -1 7 0 0 -1 8 0 1 -1 3 0 0 -1 3 0 0 -1 2 0 1 -1 2 0 0 -1 1 0 1 -1 1 0 1 -1 1 0 0 -1 1 0 1 -1 1 0 0 -1 1 0 0 -1 1 0 0 -1 1 0 0 -1 1 0 0 -1 1 0 0 -1 1 0 0 -1 1 0 0 -1 1 0 0 -1 1 0 0 -1 1 0 0 -1 1 0 0 -1 1 0 0 -1 1 0 0 -1 1 0 0 -1 1 0 0 -1 1 0 0 -1 1 0 0 -1 4 -4 0 -1 1 0 0 -1 1 0 0 -1 4 -4 0 -1 1 0 0 -1 1 0 0 -1 1 -1" fill="none" stroke="#ff00ff" stroke-width="10" stroke-linejoin="miter" stroke-miterlimit="2.5"/>
<rect x="215.5" y="419.2" width="10" height="10" fill="#ff00ff"/>
<rect x="1745.5" y="123.0" width="10" height="10" fill="#ff00ff"/>
<rect x="260.8" y="145.4" width="162.0" height="9.5" fill="#ff0000"/>
<rect x="496.0" y="145.4" width="161.9" height="9.5" fill="#00ff00"/>
<rect x="730.8" y="145.4" width="161.9" height="9.5" fill="#0000ff"/>
<rect x="959.8" y="145.4" width="162.0" height="9.5" fill="#ff00ff"/>
<g font-family="'Liberation Serif', 'Times New Roman', serif" font-size="56" fill="#000">
<text x="431.7" y="173.2">X</text>
<text x="667.3" y="173.2">Y</text>
<text x="901.9" y="173.2">Z</text>
<text x="1130.9" y="173.2">3D</text>
<text x="177.1" y="765.5" text-anchor="end">-50</text>
<text x="177.1" y="700.3" text-anchor="end">-40</text>
<text x="177.1" y="635.1" text-anchor="end">-30</text>
<text x="177.1" y="570.0" text-anchor="end">-20</text>
<text x="177.1" y="504.8" text-anchor="end">-10</text>
<text x="177.1" y="439.6" text-anchor="end">0</text>
<text x="177.1" y="374.5" text-anchor="end">10</text>
<text x="177.1" y="309.3" text-anchor="end">20</text>
<text x="177.1" y="244.2" text-anchor="end">30</text>
<text x="177.1" y="179.0" text-anchor="end">40</text>
<text x="177.1" y="113.8" text-anchor="end">50</text>
<text x="220.5" y="835.1" text-anchor="middle">0</text>
<text x="348.0" y="835.1" text-anchor="middle">2</text>
<text x="475.5" y="835.1" text-anchor="middle">4</text>
<text x="603.0" y="835.1" text-anchor="middle">6</text>
<text x="730.4" y="835.1" text-anchor="middle">8</text>
<text x="857.9" y="835.1" text-anchor="middle">10</text>
<text x="985.4" y="835.1" text-anchor="middle">12</text>
<text x="1112.9" y="835.1" text-anchor="middle">14</text>
<text x="1240.4" y="835.1" text-anchor="middle">16</text>
<text x="1367.8" y="835.1" text-anchor="middle">18</text>
<text x="1495.3" y="835.1" text-anchor="middle">20</text>
<text x="1622.8" y="835.1" text-anchor="middle">22</text>
<text x="1750.3" y="835.1" text-anchor="middle">24</text>
<text x="985.7" y="79.6" text-anchor="middle">H1</text>
<text y="890.8"><tspan x="887.4">Time</tspan> <tspan x="1018.1" dy="3.06" font-size="59.32" textLength="18.65" lengthAdjust="spacingAndGlyphs">[</tspan><tspan x="1037.05" dy="-3.06">h</tspan><tspan x="1066.0" dy="3.06" font-size="59.32" textLength="18.65" lengthAdjust="spacingAndGlyphs">]</tspan></text>
<text transform="translate(60.2,646.3) rotate(-90)" y="0"><tspan x="0" textLength="366.8" lengthAdjust="spacing">The design error</tspan> <tspan x="380.64" dy="3.06" font-size="59.32" textLength="18.65" lengthAdjust="spacingAndGlyphs">[</tspan><tspan x="397.7" dy="-3.06">m</tspan><tspan x="441.06" dy="3.06" font-size="59.32" textLength="18.65" lengthAdjust="spacingAndGlyphs">]</tspan></text>
<text><tspan x="860.71" y="1006.06" font-size="86.43" textLength="25.57" lengthAdjust="spacingAndGlyphs">(</tspan><tspan x="887.82" y="1008.2" font-size="91.02" font-weight="bold" textLength="23.61" lengthAdjust="spacingAndGlyphs">j</tspan><tspan x="915.59" y="1006.06" font-size="86.43" textLength="25.57" lengthAdjust="spacingAndGlyphs">)</tspan></text>
</g>
</svg>
</body></html>
